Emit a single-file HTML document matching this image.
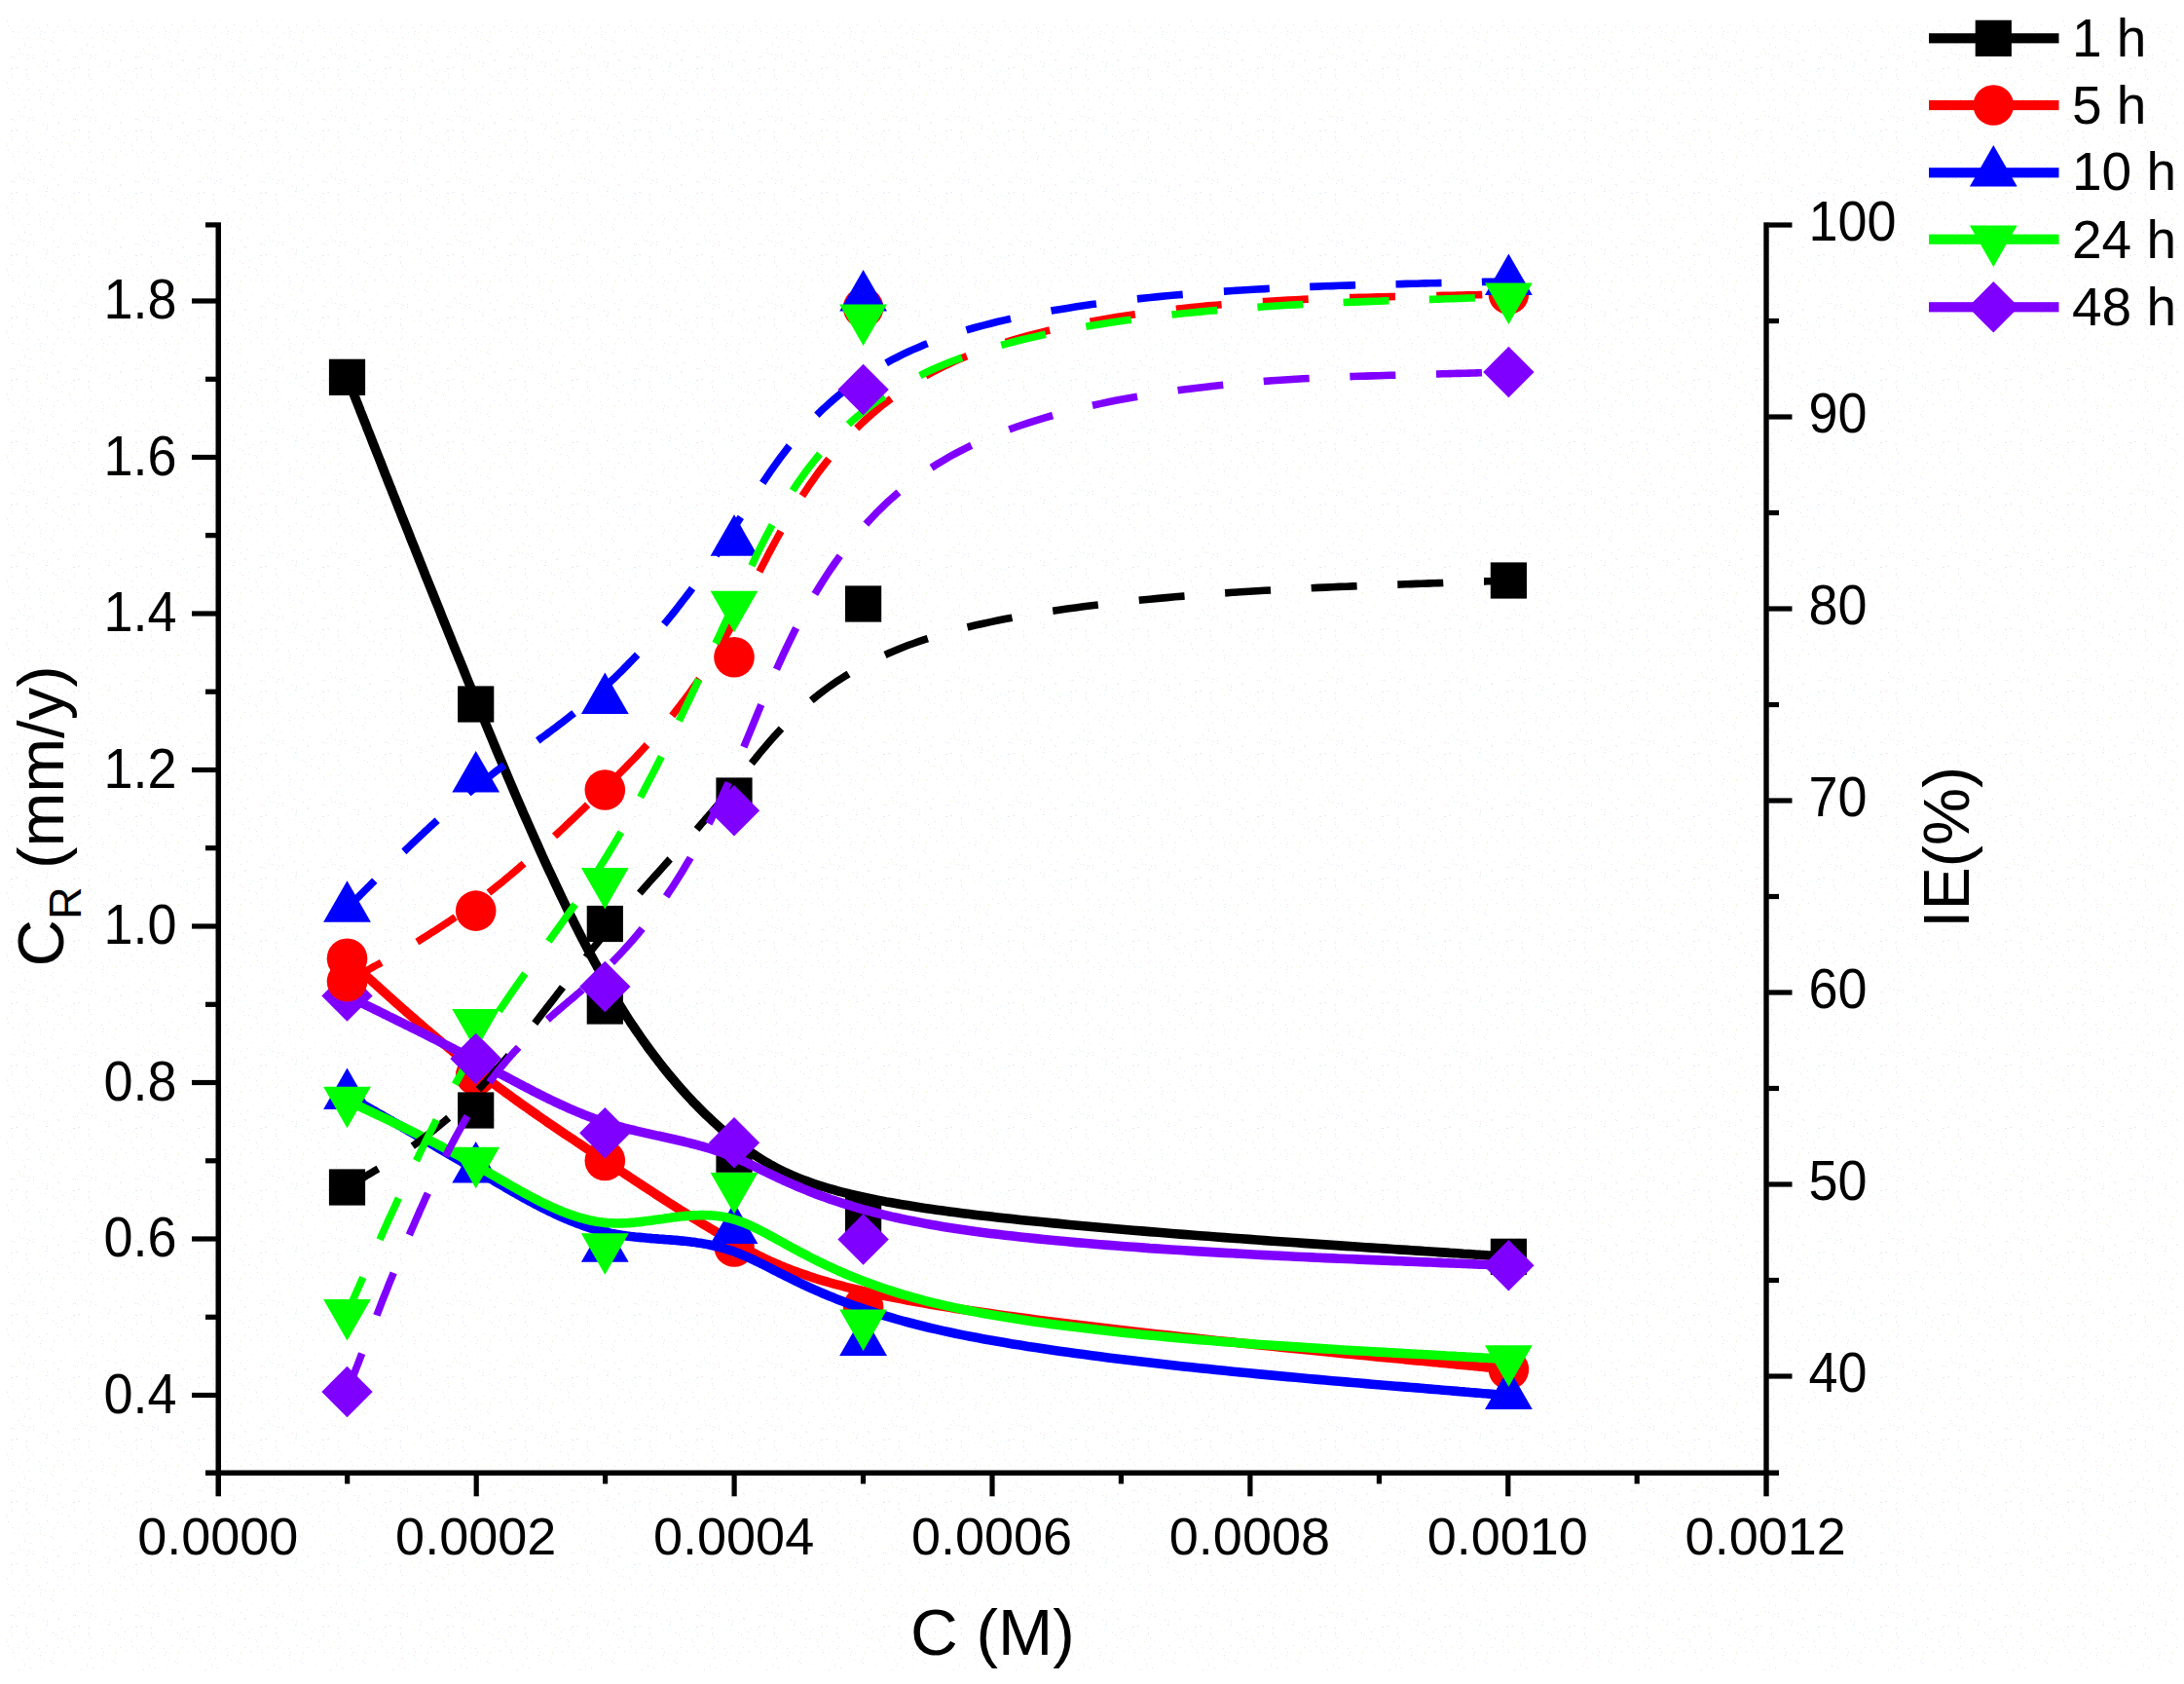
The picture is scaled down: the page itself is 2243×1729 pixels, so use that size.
<!DOCTYPE html>
<html lang="en">
<head>
<meta charset="utf-8">
<title>Corrosion rate and inhibition efficiency vs. concentration</title>
<style>
html,body{margin:0;padding:0;background:#ffffff;}
body{width:2243px;height:1729px;overflow:hidden;}
svg{display:block;}
</style>
</head>
<body>
<svg width="2243" height="1729" viewBox="0 0 2243 1729">
<rect width="2243" height="1729" fill="#ffffff"/>
<defs><pattern id="speckle" width="64" height="64" patternUnits="userSpaceOnUse"><rect x="47" y="4" width="1" height="1" fill="#eee2f0"/><rect x="54" y="3" width="1" height="1" fill="#def8f8"/><rect x="23" y="39" width="1" height="1" fill="#ecf8d6"/><rect x="57" y="14" width="1" height="1" fill="#eee2f0"/><rect x="25" y="46" width="1" height="1" fill="#eee2f0"/><rect x="26" y="8" width="1" height="1" fill="#ecf8d6"/><rect x="48" y="63" width="1" height="1" fill="#ecf8d6"/><rect x="0" y="11" width="1" height="1" fill="#eee2f0"/><rect x="6" y="19" width="1" height="1" fill="#ecf8d6"/><rect x="44" y="63" width="1" height="1" fill="#eee2f0"/><rect x="24" y="55" width="1" height="1" fill="#eee2f0"/><rect x="59" y="61" width="1" height="1" fill="#eee2f0"/><rect x="34" y="56" width="1" height="1" fill="#eee2f0"/><rect x="14" y="38" width="1" height="1" fill="#ecf8d6"/><rect x="46" y="9" width="1" height="1" fill="#def8f8"/><rect x="3" y="8" width="1" height="1" fill="#def8f8"/><rect x="48" y="1" width="1" height="1" fill="#eee2f0"/><rect x="16" y="54" width="1" height="1" fill="#ecf8d6"/><rect x="28" y="60" width="1" height="1" fill="#eee2f0"/><rect x="41" y="35" width="1" height="1" fill="#eee2f0"/><rect x="61" y="7" width="1" height="1" fill="#ecf8d6"/><rect x="55" y="32" width="1" height="1" fill="#ecf8d6"/><rect x="35" y="33" width="1" height="1" fill="#def8f8"/><rect x="59" y="27" width="1" height="1" fill="#eee2f0"/><rect x="19" y="27" width="1" height="1" fill="#ecf8d6"/><rect x="19" y="33" width="1" height="1" fill="#def8f8"/><rect x="30" y="57" width="1" height="1" fill="#eee2f0"/><rect x="29" y="17" width="1" height="1" fill="#eee2f0"/><rect x="19" y="50" width="1" height="1" fill="#eee2f0"/><rect x="21" y="55" width="1" height="1" fill="#def8f8"/><rect x="11" y="58" width="1" height="1" fill="#eee2f0"/><rect x="12" y="29" width="1" height="1" fill="#def8f8"/><rect x="41" y="9" width="1" height="1" fill="#ecf8d6"/><rect x="3" y="46" width="1" height="1" fill="#ecf8d6"/><rect x="20" y="53" width="1" height="1" fill="#ecf8d6"/><rect x="15" y="59" width="1" height="1" fill="#def8f8"/><rect x="48" y="4" width="1" height="1" fill="#def8f8"/><rect x="8" y="26" width="1" height="1" fill="#eee2f0"/><rect x="54" y="43" width="1" height="1" fill="#eee2f0"/><rect x="39" y="3" width="1" height="1" fill="#ecf8d6"/><rect x="12" y="15" width="1" height="1" fill="#eee2f0"/><rect x="54" y="38" width="1" height="1" fill="#ecf8d6"/><rect x="27" y="7" width="1" height="1" fill="#eee2f0"/><rect x="42" y="47" width="1" height="1" fill="#ecf8d6"/><rect x="52" y="41" width="1" height="1" fill="#eee2f0"/><rect x="29" y="26" width="1" height="1" fill="#eee2f0"/><rect x="60" y="62" width="1" height="1" fill="#eee2f0"/><rect x="12" y="6" width="1" height="1" fill="#eee2f0"/><rect x="34" y="59" width="1" height="1" fill="#eee2f0"/><rect x="46" y="52" width="1" height="1" fill="#eee2f0"/><rect x="29" y="38" width="1" height="1" fill="#eee2f0"/><rect x="17" y="5" width="1" height="1" fill="#eee2f0"/><rect x="54" y="12" width="1" height="1" fill="#eee2f0"/><rect x="40" y="28" width="1" height="1" fill="#eee2f0"/><rect x="23" y="21" width="1" height="1" fill="#ecf8d6"/><rect x="27" y="12" width="1" height="1" fill="#eee2f0"/><rect x="11" y="6" width="1" height="1" fill="#eee2f0"/><rect x="33" y="21" width="1" height="1" fill="#def8f8"/><rect x="28" y="56" width="1" height="1" fill="#def8f8"/><rect x="55" y="55" width="1" height="1" fill="#eee2f0"/><rect x="12" y="12" width="1" height="1" fill="#ecf8d6"/><rect x="7" y="21" width="1" height="1" fill="#eee2f0"/><rect x="41" y="38" width="1" height="1" fill="#def8f8"/><rect x="59" y="18" width="1" height="1" fill="#ecf8d6"/><rect x="16" y="5" width="1" height="1" fill="#def8f8"/><rect x="13" y="32" width="1" height="1" fill="#eee2f0"/><rect x="45" y="40" width="1" height="1" fill="#ecf8d6"/><rect x="27" y="14" width="1" height="1" fill="#eee2f0"/><rect x="42" y="32" width="1" height="1" fill="#eee2f0"/><rect x="31" y="48" width="1" height="1" fill="#eee2f0"/><rect x="9" y="9" width="1" height="1" fill="#def8f8"/><rect x="1" y="31" width="1" height="1" fill="#eee2f0"/><rect x="48" y="25" width="1" height="1" fill="#eee2f0"/><rect x="46" y="33" width="1" height="1" fill="#def8f8"/><rect x="63" y="18" width="1" height="1" fill="#eee2f0"/><rect x="13" y="58" width="1" height="1" fill="#eee2f0"/><rect x="62" y="52" width="1" height="1" fill="#eee2f0"/><rect x="27" y="28" width="1" height="1" fill="#eee2f0"/><rect x="55" y="33" width="1" height="1" fill="#ecf8d6"/><rect x="25" y="44" width="1" height="1" fill="#def8f8"/></pattern></defs>
<rect x="5" y="21" width="2232" height="1694" fill="url(#speckle)"/>
<g fill="none" stroke-linejoin="round">
<path d="M356.5 387.3 L356.8 388.2 L357.2 389.1 L357.6 390.1 L357.9 390.9 L358.3 391.9 L358.7 393 L359.3 394.3 L359.8 395.8 L360.2 396.6 L360.5 397.5 L360.9 398.4 L361.3 399.4 L361.7 400.4 L362.1 401.5 L362.6 402.7 L363 403.9 L363.5 405.2 L364.1 406.5 L364.6 407.9 L365.2 409.4 L365.8 410.9 L366.4 412.5 L367.1 414.2 L367.8 415.9 L368.5 417.8 L369.3 419.7 L370 421.7 L370.8 423.7 L371.7 425.9 L372.6 428.1 L373.5 430.4 L374.4 432.8 L375.4 435.3 L376.4 437.8 L377.4 440.5 L378.5 443.2 L379.7 446.1 L380.8 449 L382 452.1 L383.2 455.2 L384.5 458.4 L385.8 461.7 L387.1 465 L388.5 468.5 L389.9 472 L391.3 475.6 L392.7 479.3 L394.2 483.1 L395.7 486.9 L397.3 490.8 L398.8 494.8 L400.4 498.8 L402.1 502.9 L403.7 507.1 L405.4 511.3 L407.1 515.6 L408.8 520 L410.6 524.4 L412.3 528.9 L414.1 533.4 L416 538 L417.8 542.6 L419.7 547.3 L421.5 552 L423.4 556.8 L425.4 561.6 L427.3 566.5 L429.3 571.4 L431.2 576.3 L433.2 581.3 L435.2 586.3 L437.2 591.4 L439.3 596.5 L441.3 601.6 L443.4 606.7 L445.5 611.9 L447.6 617.1 L449.7 622.3 L451.8 627.6 L453.9 632.9 L456 638.1 L458.2 643.5 L460.3 648.8 L462.5 654.1 L464.6 659.5 L466.8 664.8 L469 670.2 L471.2 675.6 L473.4 681 L475.6 686.4 L477.7 691.8 L479.9 697.2 L482.1 702.5 L484.4 707.9 L486.6 713.3 L488.8 718.7 L491 724.1 L493.2 729.5 L495.4 734.8 L497.6 740.2 L499.8 745.5 L502 750.9 L504.2 756.2 L506.4 761.5 L508.6 766.8 L510.8 772.1 L513 777.3 L515.3 782.6 L517.5 787.8 L519.7 793.1 L521.9 798.3 L524.1 803.5 L526.3 808.7 L528.5 813.8 L530.7 819 L532.9 824.1 L535.1 829.2 L537.3 834.3 L539.5 839.3 L541.8 844.4 L544 849.4 L546.2 854.4 L548.4 859.4 L550.6 864.3 L552.8 869.3 L555 874.2 L557.2 879.1 L559.4 883.9 L561.6 888.7 L563.8 893.5 L566.1 898.3 L568.3 903 L570.5 907.8 L572.7 912.4 L574.9 917.1 L577.1 921.7 L579.3 926.3 L581.5 930.9 L583.7 935.4 L585.9 939.9 L588.2 944.3 L590.4 948.8 L592.6 953.1 L594.8 957.5 L597 961.8 L599.2 966.1 L601.4 970.3 L603.6 974.5 L605.8 978.7 L608.1 982.8 L610.3 986.9 L612.5 990.9 L614.7 995 L616.9 998.9 L619.1 1002.8 L621.3 1006.7 L623.5 1010.5 L625.7 1014.3 L627.9 1018.1 L630.2 1021.8 L632.4 1025.4 L634.6 1029 L636.8 1032.6 L639 1036.1 L641.2 1039.6 L643.4 1043.1 L645.6 1046.5 L647.8 1049.9 L650.1 1053.2 L652.3 1056.5 L654.5 1059.7 L656.7 1062.9 L658.9 1066.1 L661.1 1069.2 L663.3 1072.3 L665.5 1075.4 L667.7 1078.4 L670 1081.4 L672.2 1084.3 L674.4 1087.2 L676.6 1090.1 L678.8 1092.9 L681 1095.7 L683.2 1098.5 L685.4 1101.2 L687.6 1103.9 L689.9 1106.6 L692.1 1109.2 L694.3 1111.8 L696.5 1114.4 L698.7 1116.9 L700.9 1119.4 L703.1 1121.8 L705.3 1124.3 L707.6 1126.7 L709.8 1129 L712 1131.4 L714.2 1133.7 L716.4 1135.9 L718.6 1138.2 L720.8 1140.4 L723 1142.6 L725.2 1144.7 L727.5 1146.8 L729.7 1148.9 L731.9 1151 L734.1 1153 L736.3 1155 L738.5 1157 L740.7 1159 L742.9 1160.9 L745.1 1162.8 L747.4 1164.7 L749.6 1166.5 L751.8 1168.3 L754 1170.1 L756.2 1171.9 L758.4 1173.7 L760.6 1175.4 L762.9 1177.1 L765.1 1178.7 L767.3 1180.4 L769.6 1182 L771.9 1183.6 L774.2 1185.2 L776.5 1186.8 L778.8 1188.3 L781.2 1189.8 L783.6 1191.3 L786.1 1192.8 L788.5 1194.2 L791 1195.7 L793.6 1197.1 L796.2 1198.5 L798.8 1199.9 L801.5 1201.2 L804.2 1202.6 L807 1203.9 L809.8 1205.2 L812.7 1206.5 L815.6 1207.7 L818.6 1209 L821.7 1210.2 L824.9 1211.4 L828.1 1212.6 L831.3 1213.8 L834.7 1215 L838.1 1216.2 L841.6 1217.3 L845.2 1218.4 L848.9 1219.5 L852.6 1220.6 L856.5 1221.7 L860.4 1222.8 L864.5 1223.9 L868.6 1224.9 L872.8 1226 L877.1 1227 L881.6 1228 L886.1 1229 L890.7 1230 L895.5 1231 L900.3 1232 L905.3 1232.9 L910.4 1233.9 L915.6 1234.8 L921 1235.8 L926.4 1236.7 L932 1237.6 L937.8 1238.6 L943.6 1239.5 L949.6 1240.4 L955.7 1241.3 L962 1242.2 L968.4 1243 L975 1243.9 L981.7 1244.8 L988.5 1245.7 L995.5 1246.5 L1002.6 1247.4 L1009.8 1248.2 L1017.2 1249.1 L1024.7 1249.9 L1032.2 1250.7 L1039.9 1251.6 L1047.7 1252.4 L1055.6 1253.2 L1063.5 1254 L1071.6 1254.8 L1079.7 1255.6 L1087.9 1256.4 L1096.1 1257.2 L1104.4 1258 L1112.8 1258.7 L1121.2 1259.5 L1129.6 1260.3 L1138.1 1261 L1146.6 1261.7 L1155.2 1262.5 L1163.7 1263.2 L1172.3 1263.9 L1180.9 1264.6 L1189.5 1265.3 L1198.1 1266 L1206.7 1266.7 L1215.2 1267.4 L1223.8 1268 L1232.3 1268.7 L1240.8 1269.3 L1249.3 1270 L1257.7 1270.6 L1266.1 1271.2 L1274.4 1271.8 L1282.7 1272.4 L1290.9 1273 L1299 1273.6 L1307.1 1274.2 L1315.1 1274.8 L1323 1275.3 L1330.8 1275.8 L1338.5 1276.4 L1346.1 1276.9 L1353.6 1277.4 L1361 1277.9 L1368.3 1278.4 L1375.4 1278.9 L1382.4 1279.4 L1389.3 1279.8 L1396.1 1280.3 L1402.7 1280.7 L1409.1 1281.1 L1415.4 1281.5 L1421.6 1281.9 L1427.5 1282.3 L1433.3 1282.7 L1438.9 1283.1 L1444.4 1283.4 L1449.6 1283.8 L1454.7 1284.1 L1459.6 1284.4 L1464.3 1284.7 L1468.9 1285 L1473.3 1285.3 L1477.5 1285.6 L1481.6 1285.9 L1485.5 1286.1 L1489.2 1286.4 L1492.8 1286.6 L1496.3 1286.8 L1499.6 1287 L1502.8 1287.3 L1505.8 1287.5 L1508.7 1287.6 L1511.5 1287.8 L1514.2 1288 L1516.7 1288.2 L1519.1 1288.3 L1521.3 1288.5 L1523.5 1288.6 L1525.5 1288.7 L1527.5 1288.9 L1529.3 1289 L1531 1289.1 L1532.6 1289.2 L1534.2 1289.3 L1535.6 1289.4 L1536.9 1289.5 L1538.2 1289.6 L1539.3 1289.6 L1540.4 1289.7 L1541.4 1289.8 L1542.3 1289.8 L1543.2 1289.9 L1544.7 1290 L1545.9 1290.1 L1546.9 1290.1 L1548 1290.2 L1548.9 1290.3 L1549.4 1290.3" stroke="#000000" stroke-width="9.6" fill="none"/>
<rect x="337.9" y="368.7" width="37.2" height="37.2" fill="#000000"/>
<rect x="470.1" y="704.4" width="37.2" height="37.2" fill="#000000"/>
<rect x="602.7" y="1014.4" width="37.2" height="37.2" fill="#000000"/>
<rect x="735.4" y="1166.6" width="37.2" height="37.2" fill="#000000"/>
<rect x="868" y="1228.4" width="37.2" height="37.2" fill="#000000"/>
<rect x="1530.8" y="1271.7" width="37.2" height="37.2" fill="#000000"/>
<path d="M356.5 984.2 L357.1 984.7 L357.7 985.3 L358.5 986 L359.3 986.7 L360.2 987.5 L360.9 988.2 L361.7 988.9 L362.6 989.7 L363.5 990.6 L364.6 991.5 L365.8 992.6 L366.4 993.2 L367.1 993.8 L367.8 994.4 L368.5 995.1 L369.3 995.8 L370 996.5 L370.8 997.2 L371.7 998 L372.6 998.8 L373.5 999.6 L374.4 1000.4 L375.4 1001.3 L376.4 1002.2 L377.4 1003.2 L378.5 1004.2 L379.7 1005.2 L380.8 1006.2 L382 1007.3 L383.2 1008.4 L384.5 1009.6 L385.8 1010.7 L387.1 1011.9 L388.5 1013.2 L389.9 1014.4 L391.3 1015.7 L392.7 1017 L394.2 1018.3 L395.7 1019.7 L397.3 1021.1 L398.8 1022.5 L400.4 1023.9 L402.1 1025.4 L403.7 1026.8 L405.4 1028.3 L407.1 1029.9 L408.8 1031.4 L410.6 1032.9 L412.3 1034.5 L414.1 1036.1 L416 1037.7 L417.8 1039.3 L419.7 1040.9 L421.5 1042.6 L423.4 1044.2 L425.4 1045.9 L427.3 1047.6 L429.3 1049.3 L431.2 1051 L433.2 1052.7 L435.2 1054.5 L437.2 1056.2 L439.3 1057.9 L441.3 1059.7 L443.4 1061.4 L445.5 1063.2 L447.6 1065 L449.7 1066.8 L451.8 1068.5 L453.9 1070.3 L456 1072.1 L458.2 1073.9 L460.3 1075.7 L462.5 1077.4 L464.6 1079.2 L466.8 1081 L469 1082.8 L471.2 1084.6 L473.4 1086.3 L475.6 1088.1 L477.7 1089.9 L479.9 1091.6 L482.1 1093.4 L484.4 1095.1 L486.6 1096.9 L488.8 1098.6 L491 1100.3 L493.2 1102.1 L495.4 1103.8 L497.6 1105.5 L499.8 1107.1 L502 1108.8 L504.2 1110.5 L506.4 1112.2 L508.6 1113.8 L510.8 1115.5 L513 1117.1 L515.3 1118.7 L517.5 1120.4 L519.7 1122 L521.9 1123.6 L524.1 1125.2 L526.3 1126.8 L528.5 1128.4 L530.7 1130 L532.9 1131.6 L535.1 1133.2 L537.3 1134.7 L539.5 1136.3 L541.8 1137.8 L544 1139.4 L546.2 1141 L548.4 1142.5 L550.6 1144 L552.8 1145.6 L555 1147.1 L557.2 1148.6 L559.4 1150.1 L561.6 1151.7 L563.8 1153.2 L566.1 1154.7 L568.3 1156.2 L570.5 1157.7 L572.7 1159.2 L574.9 1160.7 L577.1 1162.2 L579.3 1163.7 L581.5 1165.2 L583.7 1166.6 L585.9 1168.1 L588.2 1169.6 L590.4 1171.1 L592.6 1172.6 L594.8 1174 L597 1175.5 L599.2 1177 L601.4 1178.5 L603.6 1179.9 L605.8 1181.4 L608.1 1182.9 L610.3 1184.3 L612.5 1185.8 L614.7 1187.3 L616.9 1188.7 L619.1 1190.2 L621.3 1191.7 L623.5 1193.1 L625.7 1194.6 L627.9 1196.1 L630.2 1197.5 L632.4 1199 L634.6 1200.5 L636.8 1201.9 L639 1203.4 L641.2 1204.9 L643.4 1206.3 L645.6 1207.8 L647.8 1209.2 L650.1 1210.7 L652.3 1212.2 L654.5 1213.6 L656.7 1215.1 L658.9 1216.5 L661.1 1218 L663.3 1219.4 L665.5 1220.9 L667.7 1222.3 L670 1223.8 L672.2 1225.2 L674.4 1226.7 L676.6 1228.1 L678.8 1229.5 L681 1231 L683.2 1232.4 L685.4 1233.8 L687.6 1235.2 L689.9 1236.6 L692.1 1238 L694.3 1239.5 L696.5 1240.9 L698.7 1242.3 L700.9 1243.7 L703.1 1245 L705.3 1246.4 L707.6 1247.8 L709.8 1249.2 L712 1250.6 L714.2 1251.9 L716.4 1253.3 L718.6 1254.7 L720.8 1256 L723 1257.4 L725.2 1258.7 L727.5 1260 L729.7 1261.4 L731.9 1262.7 L734.1 1264 L736.3 1265.3 L738.5 1266.6 L740.7 1267.9 L742.9 1269.2 L745.1 1270.5 L747.4 1271.8 L749.6 1273.1 L751.8 1274.3 L754 1275.6 L756.2 1276.8 L758.4 1278.1 L760.6 1279.3 L762.9 1280.5 L765.1 1281.8 L767.3 1283 L769.6 1284.2 L771.9 1285.4 L774.2 1286.6 L776.5 1287.8 L778.8 1289 L781.2 1290.1 L783.6 1291.3 L786.1 1292.5 L788.5 1293.6 L791 1294.8 L793.6 1295.9 L796.2 1297.1 L798.8 1298.2 L801.5 1299.4 L804.2 1300.5 L807 1301.6 L809.8 1302.7 L812.7 1303.9 L815.6 1305 L818.6 1306.1 L821.7 1307.2 L824.9 1308.3 L828.1 1309.4 L831.3 1310.5 L834.7 1311.6 L838.1 1312.7 L841.6 1313.8 L845.2 1314.8 L848.9 1315.9 L852.6 1317 L856.5 1318.1 L860.4 1319.1 L864.5 1320.2 L868.6 1321.3 L872.8 1322.3 L877.1 1323.4 L881.6 1324.5 L886.1 1325.5 L890.7 1326.6 L895.5 1327.6 L900.3 1328.7 L905.3 1329.7 L910.4 1330.8 L915.6 1331.8 L921 1332.9 L926.4 1333.9 L932 1335 L937.8 1336 L943.6 1337.1 L949.6 1338.1 L955.7 1339.2 L962 1340.2 L968.4 1341.3 L975 1342.3 L981.7 1343.4 L988.5 1344.4 L995.5 1345.5 L1002.6 1346.5 L1009.8 1347.6 L1017.2 1348.6 L1024.7 1349.7 L1032.2 1350.7 L1039.9 1351.8 L1047.7 1352.8 L1055.6 1353.8 L1063.5 1354.9 L1071.6 1355.9 L1079.7 1356.9 L1087.9 1358 L1096.1 1359 L1104.4 1360 L1112.8 1361 L1121.2 1362 L1129.6 1363 L1138.1 1364 L1146.6 1365 L1155.2 1366 L1163.7 1367 L1172.3 1368 L1180.9 1368.9 L1189.5 1369.9 L1198.1 1370.8 L1206.7 1371.8 L1215.2 1372.7 L1223.8 1373.6 L1232.3 1374.5 L1240.8 1375.5 L1249.3 1376.4 L1257.7 1377.2 L1266.1 1378.1 L1274.4 1379 L1282.7 1379.8 L1290.9 1380.7 L1299 1381.5 L1307.1 1382.3 L1315.1 1383.2 L1323 1383.9 L1330.8 1384.7 L1338.5 1385.5 L1346.1 1386.3 L1353.6 1387 L1361 1387.7 L1368.3 1388.5 L1375.4 1389.2 L1382.4 1389.9 L1389.3 1390.5 L1396.1 1391.2 L1402.7 1391.8 L1409.1 1392.5 L1415.4 1393.1 L1421.6 1393.7 L1427.5 1394.2 L1433.3 1394.8 L1438.9 1395.3 L1444.4 1395.9 L1449.6 1396.4 L1454.7 1396.9 L1459.6 1397.3 L1464.3 1397.8 L1468.9 1398.2 L1473.3 1398.6 L1477.5 1399.1 L1481.6 1399.4 L1485.5 1399.8 L1489.2 1400.2 L1492.8 1400.5 L1496.3 1400.9 L1499.6 1401.2 L1502.8 1401.5 L1505.8 1401.8 L1508.7 1402.1 L1511.5 1402.3 L1514.2 1402.6 L1516.7 1402.8 L1519.1 1403.1 L1521.3 1403.3 L1523.5 1403.5 L1525.5 1403.7 L1527.5 1403.9 L1529.3 1404.1 L1531 1404.2 L1532.6 1404.4 L1534.2 1404.5 L1535.6 1404.7 L1536.9 1404.8 L1538.2 1404.9 L1539.3 1405 L1540.4 1405.1 L1541.4 1405.2 L1542.3 1405.3 L1543.2 1405.4 L1544.7 1405.5 L1545.9 1405.7 L1546.9 1405.8 L1548 1405.9 L1548.9 1406 L1549.4 1406" stroke="#ff0000" stroke-width="9.6" fill="none"/>
<circle cx="356.5" cy="984.2" r="20.8" fill="#ff0000"/>
<circle cx="488.7" cy="1104" r="20.8" fill="#ff0000"/>
<circle cx="621.3" cy="1191.5" r="20.8" fill="#ff0000"/>
<circle cx="754" cy="1280" r="20.8" fill="#ff0000"/>
<circle cx="886.6" cy="1342" r="20.8" fill="#ff0000"/>
<circle cx="1549.4" cy="1406" r="20.8" fill="#ff0000"/>
<path d="M356.5 1124.8 L357.2 1125.2 L357.9 1125.6 L358.7 1126.1 L359.5 1126.5 L360.5 1127.1 L361.3 1127.5 L362.1 1128 L363 1128.5 L364.1 1129.1 L365.2 1129.8 L366.4 1130.5 L367.8 1131.2 L368.5 1131.7 L369.3 1132.1 L370 1132.5 L370.8 1133 L371.7 1133.5 L372.6 1134 L373.5 1134.5 L374.4 1135 L375.4 1135.6 L376.4 1136.2 L377.4 1136.8 L378.5 1137.4 L379.7 1138 L380.8 1138.7 L382 1139.4 L383.2 1140.1 L384.5 1140.8 L385.8 1141.5 L387.1 1142.3 L388.5 1143.1 L389.9 1143.9 L391.3 1144.7 L392.7 1145.5 L394.2 1146.4 L395.7 1147.2 L397.3 1148.1 L398.8 1149 L400.4 1149.9 L402.1 1150.8 L403.7 1151.8 L405.4 1152.8 L407.1 1153.7 L408.8 1154.7 L410.6 1155.7 L412.3 1156.7 L414.1 1157.8 L416 1158.8 L417.8 1159.9 L419.7 1161 L421.5 1162 L423.4 1163.1 L425.4 1164.2 L427.3 1165.4 L429.3 1166.5 L431.2 1167.6 L433.2 1168.8 L435.2 1169.9 L437.2 1171.1 L439.3 1172.3 L441.3 1173.5 L443.4 1174.7 L445.5 1175.9 L447.6 1177.1 L449.7 1178.3 L451.8 1179.6 L453.9 1180.8 L456 1182 L458.2 1183.3 L460.3 1184.5 L462.5 1185.8 L464.6 1187.1 L466.8 1188.3 L469 1189.6 L471.2 1190.9 L473.4 1192.2 L475.6 1193.5 L477.7 1194.8 L479.9 1196.1 L482.1 1197.4 L484.4 1198.7 L486.6 1200 L488.8 1201.3 L491 1202.6 L493.2 1203.9 L495.4 1205.2 L497.6 1206.5 L499.8 1207.8 L502 1209.1 L504.2 1210.4 L506.4 1211.7 L508.6 1213 L510.8 1214.3 L513 1215.6 L515.3 1216.9 L517.5 1218.2 L519.7 1219.5 L521.9 1220.8 L524.1 1222 L526.3 1223.3 L528.5 1224.6 L530.7 1225.8 L532.9 1227.1 L535.1 1228.3 L537.3 1229.5 L539.5 1230.8 L541.8 1232 L544 1233.2 L546.2 1234.3 L548.4 1235.5 L550.6 1236.7 L552.8 1237.8 L555 1239 L557.2 1240.1 L559.4 1241.2 L561.6 1242.3 L563.8 1243.4 L566.1 1244.5 L568.3 1245.5 L570.5 1246.6 L572.7 1247.6 L574.9 1248.6 L577.1 1249.6 L579.3 1250.6 L581.5 1251.5 L583.7 1252.4 L585.9 1253.4 L588.2 1254.3 L590.4 1255.1 L592.6 1256 L594.8 1256.8 L597 1257.6 L599.2 1258.4 L601.4 1259.2 L603.6 1259.9 L605.8 1260.6 L608.1 1261.3 L610.3 1262 L612.5 1262.6 L614.7 1263.2 L616.9 1263.8 L619.1 1264.4 L621.3 1264.9 L623.5 1265.4 L625.7 1265.9 L627.9 1266.4 L630.2 1266.8 L632.4 1267.2 L634.6 1267.6 L636.8 1267.9 L639 1268.3 L641.2 1268.6 L643.4 1268.9 L645.6 1269.2 L647.8 1269.5 L650.1 1269.7 L652.3 1270 L654.5 1270.2 L656.7 1270.4 L658.9 1270.6 L661.1 1270.8 L663.3 1271 L665.5 1271.2 L667.7 1271.4 L670 1271.6 L672.2 1271.7 L674.4 1271.9 L676.6 1272.1 L678.8 1272.2 L681 1272.4 L683.2 1272.6 L685.4 1272.7 L687.6 1272.9 L689.9 1273.1 L692.1 1273.3 L694.3 1273.4 L696.5 1273.6 L698.7 1273.9 L700.9 1274.1 L703.1 1274.3 L705.3 1274.5 L707.6 1274.8 L709.8 1275.1 L712 1275.3 L714.2 1275.6 L716.4 1276 L718.6 1276.3 L720.8 1276.6 L723 1277 L725.2 1277.4 L727.5 1277.8 L729.7 1278.3 L731.9 1278.8 L734.1 1279.3 L736.3 1279.8 L738.5 1280.3 L740.7 1280.9 L742.9 1281.5 L745.1 1282.2 L747.4 1282.9 L749.6 1283.6 L751.8 1284.3 L754 1285.1 L756.2 1285.9 L758.4 1286.8 L760.6 1287.7 L762.9 1288.6 L765.1 1289.6 L767.3 1290.5 L769.6 1291.6 L771.9 1292.6 L774.2 1293.7 L776.5 1294.8 L778.8 1296 L781.2 1297.1 L783.6 1298.3 L786.1 1299.6 L788.5 1300.8 L791 1302.1 L793.6 1303.4 L796.2 1304.7 L798.8 1306 L801.5 1307.4 L804.2 1308.7 L807 1310.1 L809.8 1311.5 L812.7 1313 L815.6 1314.4 L818.6 1315.9 L821.7 1317.3 L824.9 1318.8 L828.1 1320.3 L831.3 1321.8 L834.7 1323.4 L838.1 1324.9 L841.6 1326.4 L845.2 1328 L848.9 1329.5 L852.6 1331.1 L856.5 1332.6 L860.4 1334.2 L864.5 1335.8 L868.6 1337.3 L872.8 1338.9 L877.1 1340.5 L881.6 1342 L886.1 1343.6 L890.7 1345.2 L895.5 1346.7 L900.3 1348.3 L905.3 1349.9 L910.4 1351.4 L915.6 1352.9 L921 1354.5 L926.4 1356 L932 1357.5 L937.8 1359 L943.6 1360.5 L949.6 1362 L955.7 1363.5 L962 1364.9 L968.4 1366.4 L975 1367.8 L981.7 1369.2 L988.5 1370.6 L995.5 1372 L1002.6 1373.3 L1009.8 1374.7 L1017.2 1376 L1024.7 1377.3 L1032.2 1378.6 L1039.9 1379.9 L1047.7 1381.1 L1055.6 1382.4 L1063.5 1383.6 L1071.6 1384.8 L1079.7 1386 L1087.9 1387.2 L1096.1 1388.3 L1104.4 1389.5 L1112.8 1390.6 L1121.2 1391.7 L1129.6 1392.8 L1138.1 1393.9 L1146.6 1395 L1155.2 1396 L1163.7 1397.1 L1172.3 1398.1 L1180.9 1399.1 L1189.5 1400.1 L1198.1 1401 L1206.7 1402 L1215.2 1402.9 L1223.8 1403.8 L1232.3 1404.7 L1240.8 1405.6 L1249.3 1406.5 L1257.7 1407.3 L1266.1 1408.2 L1274.4 1409 L1282.7 1409.8 L1290.9 1410.6 L1299 1411.4 L1307.1 1412.1 L1315.1 1412.9 L1323 1413.6 L1330.8 1414.3 L1338.5 1415 L1346.1 1415.7 L1353.6 1416.4 L1361 1417 L1368.3 1417.7 L1375.4 1418.3 L1382.4 1418.9 L1389.3 1419.5 L1396.1 1420 L1402.7 1420.6 L1409.1 1421.2 L1415.4 1421.7 L1421.6 1422.2 L1427.5 1422.7 L1433.3 1423.2 L1438.9 1423.6 L1444.4 1424.1 L1449.6 1424.5 L1454.7 1424.9 L1459.6 1425.3 L1464.3 1425.7 L1468.9 1426.1 L1473.3 1426.5 L1477.5 1426.8 L1481.6 1427.2 L1485.5 1427.5 L1489.2 1427.8 L1492.8 1428.1 L1496.3 1428.4 L1499.6 1428.7 L1502.8 1428.9 L1505.8 1429.2 L1508.7 1429.4 L1511.5 1429.7 L1514.2 1429.9 L1516.7 1430.1 L1519.1 1430.3 L1521.3 1430.5 L1523.5 1430.7 L1525.5 1430.8 L1527.5 1431 L1529.3 1431.1 L1531 1431.3 L1532.6 1431.4 L1534.2 1431.5 L1535.6 1431.7 L1536.9 1431.8 L1538.2 1431.9 L1539.3 1432 L1540.4 1432.1 L1541.4 1432.1 L1542.3 1432.2 L1543.2 1432.3 L1544.7 1432.4 L1545.9 1432.5 L1546.9 1432.6 L1548 1432.7 L1548.9 1432.8 L1549.4 1432.8" stroke="#0000ff" stroke-width="9.6" fill="none"/>
<polygon points="356.5,1096.5 380.9,1139 332.1,1139" fill="#0000ff"/>
<polygon points="488.7,1172 513.1,1214.5 464.3,1214.5" fill="#0000ff"/>
<polygon points="621.3,1253.3 645.7,1295.8 596.9,1295.8" fill="#0000ff"/>
<polygon points="754,1234.5 778.4,1277 729.6,1277" fill="#0000ff"/>
<polygon points="886.6,1349.5 911,1392 862.2,1392" fill="#0000ff"/>
<polygon points="1549.4,1404.5 1573.8,1447 1525,1447" fill="#0000ff"/>
<path d="M356.5 1130 L357.3 1130.4 L358.1 1130.7 L359 1131.2 L359.8 1131.6 L360.9 1132.1 L361.7 1132.4 L362.6 1132.8 L363.5 1133.3 L364.6 1133.8 L365.8 1134.4 L367.1 1135 L368.5 1135.6 L369.3 1136 L370 1136.3 L370.8 1136.7 L371.7 1137.1 L372.6 1137.5 L373.5 1138 L374.4 1138.4 L375.4 1138.9 L376.4 1139.3 L377.4 1139.8 L378.5 1140.3 L379.7 1140.9 L380.8 1141.4 L382 1142 L383.2 1142.5 L384.5 1143.1 L385.8 1143.7 L387.1 1144.4 L388.5 1145 L389.9 1145.7 L391.3 1146.3 L392.7 1147 L394.2 1147.7 L395.7 1148.4 L397.3 1149.2 L398.8 1149.9 L400.4 1150.7 L402.1 1151.5 L403.7 1152.3 L405.4 1153.1 L407.1 1153.9 L408.8 1154.7 L410.6 1155.6 L412.3 1156.4 L414.1 1157.3 L416 1158.2 L417.8 1159.1 L419.7 1160 L421.5 1160.9 L423.4 1161.9 L425.4 1162.8 L427.3 1163.8 L429.3 1164.8 L431.2 1165.8 L433.2 1166.8 L435.2 1167.8 L437.2 1168.8 L439.3 1169.9 L441.3 1170.9 L443.4 1172 L445.5 1173 L447.6 1174.1 L449.7 1175.2 L451.8 1176.3 L453.9 1177.4 L456 1178.5 L458.2 1179.7 L460.3 1180.8 L462.5 1181.9 L464.6 1183.1 L466.8 1184.3 L469 1185.4 L471.2 1186.6 L473.4 1187.8 L475.6 1189 L477.7 1190.2 L479.9 1191.5 L482.1 1192.7 L484.4 1193.9 L486.6 1195.2 L488.8 1196.4 L491 1197.7 L493.2 1198.9 L495.4 1200.2 L497.6 1201.5 L499.8 1202.8 L502 1204 L504.2 1205.3 L506.4 1206.6 L508.6 1207.9 L510.8 1209.2 L513 1210.5 L515.3 1211.8 L517.5 1213 L519.7 1214.3 L521.9 1215.6 L524.1 1216.9 L526.3 1218.1 L528.5 1219.4 L530.7 1220.6 L532.9 1221.9 L535.1 1223.1 L537.3 1224.3 L539.5 1225.5 L541.8 1226.7 L544 1227.9 L546.2 1229.1 L548.4 1230.3 L550.6 1231.4 L552.8 1232.5 L555 1233.7 L557.2 1234.8 L559.4 1235.8 L561.6 1236.9 L563.8 1237.9 L566.1 1239 L568.3 1240 L570.5 1240.9 L572.7 1241.9 L574.9 1242.8 L577.1 1243.7 L579.3 1244.6 L581.5 1245.4 L583.7 1246.3 L585.9 1247.1 L588.2 1247.8 L590.4 1248.6 L592.6 1249.3 L594.8 1250 L597 1250.6 L599.2 1251.2 L601.4 1251.8 L603.6 1252.3 L605.8 1252.9 L608.1 1253.3 L610.3 1253.8 L612.5 1254.2 L614.7 1254.5 L616.9 1254.8 L619.1 1255.1 L621.3 1255.4 L623.5 1255.6 L625.7 1255.7 L627.9 1255.8 L630.2 1255.9 L632.4 1256 L634.6 1256 L636.8 1256 L639 1255.9 L641.2 1255.8 L643.4 1255.7 L645.6 1255.6 L647.8 1255.4 L650.1 1255.3 L652.3 1255.1 L654.5 1254.8 L656.7 1254.6 L658.9 1254.4 L661.1 1254.1 L663.3 1253.8 L665.5 1253.5 L667.7 1253.2 L670 1252.9 L672.2 1252.6 L674.4 1252.3 L676.6 1252 L678.8 1251.7 L681 1251.4 L683.2 1251 L685.4 1250.7 L687.6 1250.4 L689.9 1250.1 L692.1 1249.8 L694.3 1249.6 L696.5 1249.3 L698.7 1249 L700.9 1248.8 L703.1 1248.6 L705.3 1248.4 L707.6 1248.2 L709.8 1248.1 L712 1247.9 L714.2 1247.8 L716.4 1247.7 L718.6 1247.7 L720.8 1247.6 L723 1247.6 L725.2 1247.7 L727.5 1247.8 L729.7 1247.9 L731.9 1248 L734.1 1248.2 L736.3 1248.4 L738.5 1248.7 L740.7 1249 L742.9 1249.4 L745.1 1249.8 L747.4 1250.3 L749.6 1250.8 L751.8 1251.4 L754 1252 L756.2 1252.7 L758.4 1253.4 L760.6 1254.2 L762.9 1255 L765.1 1255.9 L767.3 1256.9 L769.6 1257.9 L771.9 1258.9 L774.2 1260 L776.5 1261.1 L778.8 1262.3 L781.2 1263.5 L783.6 1264.7 L786.1 1266 L788.5 1267.3 L791 1268.7 L793.6 1270.1 L796.2 1271.5 L798.8 1272.9 L801.5 1274.4 L804.2 1275.9 L807 1277.5 L809.8 1279 L812.7 1280.6 L815.6 1282.2 L818.6 1283.8 L821.7 1285.5 L824.9 1287.1 L828.1 1288.8 L831.3 1290.5 L834.7 1292.2 L838.1 1293.9 L841.6 1295.7 L845.2 1297.4 L848.9 1299.2 L852.6 1300.9 L856.5 1302.7 L860.4 1304.5 L864.5 1306.2 L868.6 1308 L872.8 1309.8 L877.1 1311.5 L881.6 1313.3 L886.1 1315.1 L890.7 1316.8 L895.5 1318.6 L900.3 1320.3 L905.3 1322 L910.4 1323.7 L915.6 1325.4 L921 1327.1 L926.4 1328.8 L932 1330.4 L937.8 1332.1 L943.6 1333.7 L949.6 1335.3 L955.7 1336.9 L962 1338.4 L968.4 1339.9 L975 1341.4 L981.7 1342.9 L988.5 1344.3 L995.5 1345.7 L1002.6 1347.1 L1009.8 1348.5 L1017.2 1349.8 L1024.7 1351.1 L1032.2 1352.3 L1039.9 1353.6 L1047.7 1354.8 L1055.6 1356 L1063.5 1357.2 L1071.6 1358.3 L1079.7 1359.4 L1087.9 1360.5 L1096.1 1361.6 L1104.4 1362.6 L1112.8 1363.6 L1121.2 1364.6 L1129.6 1365.6 L1138.1 1366.6 L1146.6 1367.5 L1155.2 1368.4 L1163.7 1369.3 L1172.3 1370.2 L1180.9 1371 L1189.5 1371.8 L1198.1 1372.6 L1206.7 1373.4 L1215.2 1374.2 L1223.8 1374.9 L1232.3 1375.6 L1240.8 1376.3 L1249.3 1377 L1257.7 1377.7 L1266.1 1378.3 L1274.4 1379 L1282.7 1379.6 L1290.9 1380.2 L1299 1380.8 L1307.1 1381.3 L1315.1 1381.9 L1323 1382.4 L1330.8 1382.9 L1338.5 1383.4 L1346.1 1383.9 L1353.6 1384.4 L1361 1384.9 L1368.3 1385.3 L1375.4 1385.7 L1382.4 1386.2 L1389.3 1386.6 L1396.1 1387 L1402.7 1387.3 L1409.1 1387.7 L1415.4 1388.1 L1421.6 1388.4 L1427.5 1388.7 L1433.3 1389.1 L1438.9 1389.4 L1444.4 1389.7 L1449.6 1390 L1454.7 1390.2 L1459.6 1390.5 L1464.3 1390.8 L1468.9 1391 L1473.3 1391.3 L1477.5 1391.5 L1481.6 1391.7 L1485.5 1392 L1489.2 1392.2 L1492.8 1392.4 L1496.3 1392.6 L1499.6 1392.7 L1502.8 1392.9 L1505.8 1393.1 L1508.7 1393.2 L1511.5 1393.4 L1514.2 1393.5 L1516.7 1393.7 L1519.1 1393.8 L1521.3 1393.9 L1523.5 1394.1 L1525.5 1394.2 L1527.5 1394.3 L1529.3 1394.4 L1531 1394.5 L1532.6 1394.6 L1534.2 1394.7 L1535.6 1394.7 L1536.9 1394.8 L1538.2 1394.9 L1539.3 1394.9 L1540.4 1395 L1541.4 1395.1 L1542.3 1395.1 L1543.2 1395.2 L1544.7 1395.2 L1545.9 1395.3 L1546.9 1395.4 L1548 1395.4 L1548.9 1395.5 L1549.4 1395.5" stroke="#00ff00" stroke-width="9.6" fill="none"/>
<polygon points="356.5,1158.3 380.9,1115.8 332.1,1115.8" fill="#00ff00"/>
<polygon points="488.7,1220.3 513.1,1177.8 464.3,1177.8" fill="#00ff00"/>
<polygon points="621.3,1308.8 645.7,1266.3 596.9,1266.3" fill="#00ff00"/>
<polygon points="754,1246.5 778.4,1204 729.6,1204" fill="#00ff00"/>
<polygon points="886.6,1387 911,1344.5 862.2,1344.5" fill="#00ff00"/>
<polygon points="1549.4,1423.8 1573.8,1381.3 1525,1381.3" fill="#00ff00"/>
<path d="M356.5 1022.5 L357.3 1022.9 L358.1 1023.3 L359 1023.7 L359.8 1024.1 L360.9 1024.6 L361.7 1025 L362.6 1025.5 L363.5 1025.9 L364.6 1026.5 L365.8 1027 L367.1 1027.7 L368.5 1028.4 L369.3 1028.7 L370 1029.1 L370.8 1029.5 L371.7 1029.9 L372.6 1030.3 L373.5 1030.8 L374.4 1031.2 L375.4 1031.7 L376.4 1032.2 L377.4 1032.7 L378.5 1033.2 L379.7 1033.8 L380.8 1034.4 L382 1034.9 L383.2 1035.5 L384.5 1036.2 L385.8 1036.8 L387.1 1037.4 L388.5 1038.1 L389.9 1038.8 L391.3 1039.5 L392.7 1040.2 L394.2 1040.9 L395.7 1041.7 L397.3 1042.4 L398.8 1043.2 L400.4 1044 L402.1 1044.8 L403.7 1045.6 L405.4 1046.4 L407.1 1047.3 L408.8 1048.1 L410.6 1049 L412.3 1049.9 L414.1 1050.7 L416 1051.7 L417.8 1052.6 L419.7 1053.5 L421.5 1054.4 L423.4 1055.4 L425.4 1056.3 L427.3 1057.3 L429.3 1058.3 L431.2 1059.3 L433.2 1060.3 L435.2 1061.3 L437.2 1062.3 L439.3 1063.3 L441.3 1064.4 L443.4 1065.4 L445.5 1066.5 L447.6 1067.5 L449.7 1068.6 L451.8 1069.7 L453.9 1070.8 L456 1071.9 L458.2 1073 L460.3 1074.1 L462.5 1075.2 L464.6 1076.3 L466.8 1077.4 L469 1078.6 L471.2 1079.7 L473.4 1080.8 L475.6 1082 L477.7 1083.1 L479.9 1084.3 L482.1 1085.5 L484.4 1086.6 L486.6 1087.8 L488.8 1089 L491 1090.1 L493.2 1091.3 L495.4 1092.5 L497.6 1093.7 L499.8 1094.9 L502 1096.1 L504.2 1097.2 L506.4 1098.4 L508.6 1099.6 L510.8 1100.8 L513 1102 L515.3 1103.2 L517.5 1104.4 L519.7 1105.5 L521.9 1106.7 L524.1 1107.9 L526.3 1109.1 L528.5 1110.3 L530.7 1111.4 L532.9 1112.6 L535.1 1113.8 L537.3 1114.9 L539.5 1116.1 L541.8 1117.2 L544 1118.4 L546.2 1119.5 L548.4 1120.7 L550.6 1121.8 L552.8 1122.9 L555 1124 L557.2 1125.1 L559.4 1126.2 L561.6 1127.3 L563.8 1128.4 L566.1 1129.5 L568.3 1130.5 L570.5 1131.6 L572.7 1132.6 L574.9 1133.6 L577.1 1134.7 L579.3 1135.7 L581.5 1136.7 L583.7 1137.7 L585.9 1138.6 L588.2 1139.6 L590.4 1140.5 L592.6 1141.5 L594.8 1142.4 L597 1143.3 L599.2 1144.2 L601.4 1145.1 L603.6 1145.9 L605.8 1146.8 L608.1 1147.6 L610.3 1148.4 L612.5 1149.2 L614.7 1150 L616.9 1150.8 L619.1 1151.5 L621.3 1152.2 L623.5 1153 L625.7 1153.7 L627.9 1154.3 L630.2 1155 L632.4 1155.6 L634.6 1156.3 L636.8 1156.9 L639 1157.5 L641.2 1158.1 L643.4 1158.6 L645.6 1159.2 L647.8 1159.8 L650.1 1160.3 L652.3 1160.8 L654.5 1161.4 L656.7 1161.9 L658.9 1162.4 L661.1 1162.9 L663.3 1163.4 L665.5 1163.9 L667.7 1164.4 L670 1164.9 L672.2 1165.4 L674.4 1165.9 L676.6 1166.3 L678.8 1166.8 L681 1167.3 L683.2 1167.8 L685.4 1168.3 L687.6 1168.8 L689.9 1169.3 L692.1 1169.8 L694.3 1170.3 L696.5 1170.8 L698.7 1171.3 L700.9 1171.8 L703.1 1172.3 L705.3 1172.9 L707.6 1173.4 L709.8 1174 L712 1174.5 L714.2 1175.1 L716.4 1175.7 L718.6 1176.3 L720.8 1176.9 L723 1177.5 L725.2 1178.2 L727.5 1178.8 L729.7 1179.5 L731.9 1180.2 L734.1 1180.9 L736.3 1181.6 L738.5 1182.4 L740.7 1183.1 L742.9 1183.9 L745.1 1184.7 L747.4 1185.5 L749.6 1186.4 L751.8 1187.3 L754 1188.2 L756.2 1189.1 L758.4 1190 L760.6 1191 L762.9 1192 L765.1 1193 L767.3 1194 L769.6 1195.1 L771.9 1196.2 L774.2 1197.3 L776.5 1198.4 L778.8 1199.5 L781.2 1200.7 L783.6 1201.8 L786.1 1203 L788.5 1204.2 L791 1205.4 L793.6 1206.6 L796.2 1207.8 L798.8 1209.1 L801.5 1210.3 L804.2 1211.6 L807 1212.9 L809.8 1214.1 L812.7 1215.4 L815.6 1216.7 L818.6 1218 L821.7 1219.3 L824.9 1220.6 L828.1 1221.9 L831.3 1223.2 L834.7 1224.6 L838.1 1225.9 L841.6 1227.2 L845.2 1228.5 L848.9 1229.8 L852.6 1231.2 L856.5 1232.5 L860.4 1233.8 L864.5 1235.1 L868.6 1236.4 L872.8 1237.7 L877.1 1239 L881.6 1240.3 L886.1 1241.6 L890.7 1242.8 L895.5 1244.1 L900.3 1245.4 L905.3 1246.6 L910.4 1247.8 L915.6 1249.1 L921 1250.3 L926.4 1251.5 L932 1252.6 L937.8 1253.8 L943.6 1254.9 L949.6 1256.1 L955.7 1257.2 L962 1258.3 L968.4 1259.4 L975 1260.4 L981.7 1261.5 L988.5 1262.5 L995.5 1263.5 L1002.6 1264.5 L1009.8 1265.4 L1017.2 1266.4 L1024.7 1267.3 L1032.2 1268.2 L1039.9 1269.1 L1047.7 1270 L1055.6 1270.8 L1063.5 1271.6 L1071.6 1272.5 L1079.7 1273.3 L1087.9 1274 L1096.1 1274.8 L1104.4 1275.6 L1112.8 1276.3 L1121.2 1277 L1129.6 1277.7 L1138.1 1278.4 L1146.6 1279 L1155.2 1279.7 L1163.7 1280.3 L1172.3 1280.9 L1180.9 1281.6 L1189.5 1282.1 L1198.1 1282.7 L1206.7 1283.3 L1215.2 1283.8 L1223.8 1284.4 L1232.3 1284.9 L1240.8 1285.4 L1249.3 1285.9 L1257.7 1286.4 L1266.1 1286.8 L1274.4 1287.3 L1282.7 1287.7 L1290.9 1288.2 L1299 1288.6 L1307.1 1289 L1315.1 1289.4 L1323 1289.8 L1330.8 1290.2 L1338.5 1290.5 L1346.1 1290.9 L1353.6 1291.2 L1361 1291.6 L1368.3 1291.9 L1375.4 1292.2 L1382.4 1292.5 L1389.3 1292.8 L1396.1 1293.1 L1402.7 1293.4 L1409.1 1293.6 L1415.4 1293.9 L1421.6 1294.1 L1427.5 1294.4 L1433.3 1294.6 L1438.9 1294.8 L1444.4 1295.1 L1449.6 1295.3 L1454.7 1295.5 L1459.6 1295.7 L1464.3 1295.9 L1468.9 1296 L1473.3 1296.2 L1477.5 1296.4 L1481.6 1296.6 L1485.5 1296.7 L1489.2 1296.9 L1492.8 1297 L1496.3 1297.2 L1499.6 1297.3 L1502.8 1297.4 L1505.8 1297.5 L1508.7 1297.7 L1511.5 1297.8 L1514.2 1297.9 L1516.7 1298 L1519.1 1298.1 L1521.3 1298.2 L1523.5 1298.3 L1525.5 1298.3 L1527.5 1298.4 L1529.3 1298.5 L1531 1298.6 L1532.6 1298.6 L1534.2 1298.7 L1535.6 1298.7 L1536.9 1298.8 L1538.2 1298.8 L1539.3 1298.9 L1540.4 1298.9 L1541.4 1299 L1542.3 1299 L1543.2 1299 L1544.7 1299.1 L1545.9 1299.2 L1546.9 1299.2 L1548 1299.2 L1548.9 1299.3 L1549.4 1299.3" stroke="#8000ff" stroke-width="9.6" fill="none"/>
<polygon points="356.5,996.3 382.7,1022.5 356.5,1048.7 330.3,1022.5" fill="#8000ff"/>
<polygon points="488.7,1060.8 514.9,1087 488.7,1113.2 462.5,1087" fill="#8000ff"/>
<polygon points="621.3,1137.1 647.5,1163.3 621.3,1189.5 595.1,1163.3" fill="#8000ff"/>
<polygon points="754,1147.1 780.2,1173.3 754,1199.5 727.8,1173.3" fill="#8000ff"/>
<polygon points="886.6,1246.3 912.8,1272.5 886.6,1298.7 860.4,1272.5" fill="#8000ff"/>
<polygon points="1549.4,1273.1 1575.6,1299.3 1549.4,1325.5 1523.2,1299.3" fill="#8000ff"/>
</g>
<g fill="none">
<path d="M356.5 1219 L357.2 1218.6 L357.9 1218.2 L358.7 1217.7 L359.5 1217.2 L360.5 1216.6 L361.3 1216.2 L362.1 1215.7 L363 1215.1 L364.1 1214.5 L365.2 1213.8 L366.4 1213.1 L367.8 1212.3 L368.5 1211.8 L369.3 1211.4 L370 1210.9 L370.8 1210.4 L371.7 1209.9 L372.6 1209.4 L373.5 1208.9 L374.4 1208.3 L375.4 1207.7 L376.4 1207.1 L377.4 1206.5 L378.5 1205.8 L379.7 1205.2 L380.8 1204.5 L382 1203.8 L383.2 1203 L384.5 1202.3 L385.8 1201.5 L387.1 1200.7 L388.5 1199.9 L389.9 1199 L391.3 1198.1 L392.7 1197.2 L394.2 1196.3 L395.7 1195.4 L397.3 1194.4 L398.8 1193.4 L400.4 1192.4 L402.1 1191.3 L403.7 1190.3 L405.4 1189.2 L407.1 1188.1 L408.8 1186.9 L410.6 1185.8 L412.3 1184.6 L414.1 1183.4 L416 1182.1 L417.8 1180.8 L419.7 1179.6 L421.5 1178.2 L423.4 1176.9 L425.4 1175.5 L427.3 1174.1 L429.3 1172.7 L431.2 1171.2 L433.2 1169.8 L435.2 1168.2 L437.2 1166.7 L439.3 1165.1 L441.3 1163.6 L443.4 1161.9 L445.5 1160.3 L447.6 1158.6 L449.7 1156.9 L451.8 1155.2 L453.9 1153.4 L456 1151.6 L458.2 1149.8 L460.3 1148 L462.5 1146.1 L464.6 1144.2 L466.8 1142.3 L469 1140.3 L471.2 1138.3 L473.4 1136.3 L475.6 1134.2 L477.7 1132.1 L479.9 1130 L482.1 1127.9 L484.4 1125.7 L486.6 1123.5 L488.8 1121.2 L491 1119 L493.2 1116.7 L495.4 1114.4 L497.6 1112 L499.8 1109.6 L502 1107.2 L504.2 1104.8 L506.4 1102.3 L508.6 1099.8 L510.8 1097.3 L513 1094.7 L515.3 1092.2 L517.5 1089.6 L519.7 1087 L521.9 1084.4 L524.1 1081.7 L526.3 1079.1 L528.5 1076.4 L530.7 1073.7 L532.9 1071 L535.1 1068.3 L537.3 1065.5 L539.5 1062.8 L541.8 1060 L544 1057.2 L546.2 1054.4 L548.4 1051.6 L550.6 1048.8 L552.8 1046 L555 1043.2 L557.2 1040.3 L559.4 1037.5 L561.6 1034.6 L563.8 1031.8 L566.1 1028.9 L568.3 1026.1 L570.5 1023.2 L572.7 1020.3 L574.9 1017.5 L577.1 1014.6 L579.3 1011.7 L581.5 1008.9 L583.7 1006 L585.9 1003.2 L588.2 1000.3 L590.4 997.5 L592.6 994.6 L594.8 991.8 L597 988.9 L599.2 986.1 L601.4 983.3 L603.6 980.5 L605.8 977.7 L608.1 974.9 L610.3 972.2 L612.5 969.4 L614.7 966.6 L616.9 963.9 L619.1 961.2 L621.3 958.5 L623.5 955.8 L625.7 953.1 L627.9 950.5 L630.2 947.9 L632.4 945.2 L634.6 942.6 L636.8 940 L639 937.5 L641.2 934.9 L643.4 932.3 L645.6 929.8 L647.8 927.2 L650.1 924.7 L652.3 922.2 L654.5 919.7 L656.7 917.2 L658.9 914.7 L661.1 912.2 L663.3 909.7 L665.5 907.2 L667.7 904.8 L670 902.3 L672.2 899.8 L674.4 897.4 L676.6 894.9 L678.8 892.4 L681 890 L683.2 887.5 L685.4 885.1 L687.6 882.6 L689.9 880.2 L692.1 877.7 L694.3 875.3 L696.5 872.8 L698.7 870.3 L700.9 867.9 L703.1 865.4 L705.3 862.9 L707.6 860.5 L709.8 858 L712 855.5 L714.2 853 L716.4 850.5 L718.6 848 L720.8 845.4 L723 842.9 L725.2 840.3 L727.5 837.8 L729.7 835.2 L731.9 832.6 L734.1 830.1 L736.3 827.5 L738.5 824.8 L740.7 822.2 L742.9 819.6 L745.1 816.9 L747.4 814.2 L749.6 811.5 L751.8 808.8 L754 806.1 L756.2 803.3 L758.4 800.6 L760.6 797.8 L762.9 795 L765.1 792.2 L767.3 789.4 L769.6 786.5 L771.9 783.7 L774.2 780.8 L776.5 778 L778.8 775.1 L781.2 772.2 L783.6 769.4 L786.1 766.5 L788.5 763.6 L791 760.7 L793.6 757.8 L796.2 754.9 L798.8 752 L801.5 749.2 L804.2 746.3 L807 743.4 L809.8 740.5 L812.7 737.7 L815.6 734.8 L818.6 732 L821.7 729.2 L824.9 726.3 L828.1 723.5 L831.3 720.7 L834.7 718 L838.1 715.2 L841.6 712.5 L845.2 709.7 L848.9 707 L852.6 704.3 L856.5 701.7 L860.4 699 L864.5 696.4 L868.6 693.8 L872.8 691.2 L877.1 688.7 L881.6 686.2 L886.1 683.7 L890.7 681.2 L895.5 678.8 L900.3 676.4 L905.3 674.1 L910.4 671.8 L915.6 669.5 L921 667.2 L926.4 665 L932 662.8 L937.8 660.7 L943.6 658.6 L949.6 656.6 L955.7 654.6 L962 652.6 L968.4 650.7 L975 648.8 L981.7 647 L988.5 645.2 L995.5 643.5 L1002.6 641.8 L1009.8 640.2 L1017.2 638.6 L1024.7 637.1 L1032.2 635.6 L1039.9 634.1 L1047.7 632.7 L1055.6 631.3 L1063.5 630 L1071.6 628.7 L1079.7 627.4 L1087.9 626.2 L1096.1 625 L1104.4 623.9 L1112.8 622.8 L1121.2 621.7 L1129.6 620.7 L1138.1 619.7 L1146.6 618.7 L1155.2 617.8 L1163.7 616.9 L1172.3 616 L1180.9 615.2 L1189.5 614.4 L1198.1 613.6 L1206.7 612.8 L1215.2 612.1 L1223.8 611.4 L1232.3 610.7 L1240.8 610.1 L1249.3 609.5 L1257.7 608.9 L1266.1 608.3 L1274.4 607.8 L1282.7 607.2 L1290.9 606.7 L1299 606.3 L1307.1 605.8 L1315.1 605.4 L1323 604.9 L1330.8 604.5 L1338.5 604.1 L1346.1 603.8 L1353.6 603.4 L1361 603.1 L1368.3 602.8 L1375.4 602.4 L1382.4 602.2 L1389.3 601.9 L1396.1 601.6 L1402.7 601.3 L1409.1 601.1 L1415.4 600.9 L1421.6 600.6 L1427.5 600.4 L1433.3 600.2 L1438.9 600 L1444.4 599.8 L1449.6 599.6 L1454.7 599.4 L1459.6 599.3 L1464.3 599.1 L1468.9 598.9 L1473.3 598.8 L1477.5 598.6 L1481.6 598.5 L1485.5 598.3 L1489.2 598.2 L1492.8 598 L1496.3 597.9 L1499.6 597.8 L1502.8 597.7 L1505.8 597.6 L1508.7 597.5 L1511.5 597.4 L1514.2 597.3 L1516.7 597.2 L1519.1 597.1 L1521.3 597 L1523.5 596.9 L1525.5 596.9 L1527.5 596.8 L1529.3 596.7 L1531 596.7 L1532.6 596.6 L1534.2 596.6 L1535.6 596.5 L1536.9 596.5 L1538.2 596.4 L1539.3 596.4 L1540.4 596.3 L1541.4 596.3 L1542.3 596.3 L1543.2 596.2 L1544.7 596.2 L1545.9 596.1 L1546.9 596.1 L1548 596.1 L1548.9 596 L1549.4 596" stroke="#000000" stroke-width="7.6" stroke-dasharray="37.2 42.3 47 42.3 47 42.3 47 38.9 47 38.7 47 41 47 41.1 47 42.3 47 42.3 47 42.3 47 42.3 47 42.2 47 41.7 47 41.7 47 41.7 47 41.8 47 4000" fill="none"/>
<rect x="337.9" y="1200.4" width="37.2" height="37.2" fill="#000000"/>
<rect x="470.1" y="1121.4" width="37.2" height="37.2" fill="#000000"/>
<rect x="602.7" y="929.9" width="37.2" height="37.2" fill="#000000"/>
<rect x="735.4" y="798.4" width="37.2" height="37.2" fill="#000000"/>
<rect x="868" y="601.4" width="37.2" height="37.2" fill="#000000"/>
<rect x="1530.8" y="577.4" width="37.2" height="37.2" fill="#000000"/>
<path d="M356.5 1007.6 L357.3 1007.2 L358.1 1006.7 L359 1006.2 L359.8 1005.8 L360.9 1005.2 L361.7 1004.8 L362.6 1004.3 L363.5 1003.7 L364.6 1003.2 L365.8 1002.5 L367.1 1001.8 L368.5 1001 L369.3 1000.6 L370 1000.2 L370.8 999.7 L371.7 999.3 L372.6 998.8 L373.5 998.3 L374.4 997.8 L375.4 997.2 L376.4 996.7 L377.4 996.1 L378.5 995.5 L379.7 994.9 L380.8 994.3 L382 993.6 L383.2 992.9 L384.5 992.2 L385.8 991.5 L387.1 990.8 L388.5 990 L389.9 989.3 L391.3 988.5 L392.7 987.7 L394.2 986.8 L395.7 986 L397.3 985.1 L398.8 984.2 L400.4 983.3 L402.1 982.4 L403.7 981.5 L405.4 980.5 L407.1 979.5 L408.8 978.5 L410.6 977.5 L412.3 976.5 L414.1 975.4 L416 974.4 L417.8 973.3 L419.7 972.2 L421.5 971.1 L423.4 969.9 L425.4 968.8 L427.3 967.6 L429.3 966.4 L431.2 965.2 L433.2 964 L435.2 962.7 L437.2 961.5 L439.3 960.2 L441.3 958.9 L443.4 957.6 L445.5 956.3 L447.6 954.9 L449.7 953.6 L451.8 952.2 L453.9 950.8 L456 949.4 L458.2 948 L460.3 946.6 L462.5 945.1 L464.6 943.6 L466.8 942.2 L469 940.7 L471.2 939.1 L473.4 937.6 L475.6 936.1 L477.7 934.5 L479.9 932.9 L482.1 931.4 L484.4 929.7 L486.6 928.1 L488.8 926.5 L491 924.9 L493.2 923.2 L495.4 921.5 L497.6 919.8 L499.8 918.1 L502 916.4 L504.2 914.7 L506.4 913 L508.6 911.2 L510.8 909.4 L513 907.7 L515.3 905.9 L517.5 904.1 L519.7 902.2 L521.9 900.4 L524.1 898.6 L526.3 896.7 L528.5 894.9 L530.7 893 L532.9 891.1 L535.1 889.2 L537.3 887.3 L539.5 885.4 L541.8 883.5 L544 881.5 L546.2 879.6 L548.4 877.6 L550.6 875.7 L552.8 873.7 L555 871.7 L557.2 869.7 L559.4 867.7 L561.6 865.7 L563.8 863.7 L566.1 861.7 L568.3 859.7 L570.5 857.6 L572.7 855.6 L574.9 853.5 L577.1 851.5 L579.3 849.4 L581.5 847.3 L583.7 845.2 L585.9 843.1 L588.2 841 L590.4 838.9 L592.6 836.8 L594.8 834.7 L597 832.6 L599.2 830.5 L601.4 828.3 L603.6 826.2 L605.8 824.1 L608.1 821.9 L610.3 819.8 L612.5 817.6 L614.7 815.5 L616.9 813.3 L619.1 811.2 L621.3 809 L623.5 806.8 L625.7 804.6 L627.9 802.5 L630.2 800.3 L632.4 798.1 L634.6 795.9 L636.8 793.7 L639 791.4 L641.2 789.2 L643.4 787 L645.6 784.7 L647.8 782.4 L650.1 780.1 L652.3 777.8 L654.5 775.5 L656.7 773.2 L658.9 770.8 L661.1 768.4 L663.3 766 L665.5 763.6 L667.7 761.2 L670 758.7 L672.2 756.2 L674.4 753.7 L676.6 751.2 L678.8 748.6 L681 746 L683.2 743.4 L685.4 740.7 L687.6 738 L689.9 735.3 L692.1 732.5 L694.3 729.7 L696.5 726.9 L698.7 724 L700.9 721.1 L703.1 718.2 L705.3 715.2 L707.6 712.2 L709.8 709.1 L712 706 L714.2 702.9 L716.4 699.7 L718.6 696.5 L720.8 693.2 L723 689.8 L725.2 686.5 L727.5 683 L729.7 679.6 L731.9 676 L734.1 672.4 L736.3 668.8 L738.5 665.1 L740.7 661.4 L742.9 657.6 L745.1 653.7 L747.4 649.8 L749.6 645.8 L751.8 641.8 L754 637.7 L756.2 633.5 L758.4 629.3 L760.6 625.1 L762.9 620.7 L765.1 616.4 L767.3 611.9 L769.6 607.5 L771.9 602.9 L774.2 598.4 L776.5 593.8 L778.8 589.2 L781.2 584.5 L783.6 579.8 L786.1 575.1 L788.5 570.3 L791 565.6 L793.6 560.8 L796.2 556 L798.8 551.2 L801.5 546.3 L804.2 541.5 L807 536.6 L809.8 531.8 L812.7 526.9 L815.6 522.1 L818.6 517.2 L821.7 512.4 L824.9 507.6 L828.1 502.8 L831.3 497.9 L834.7 493.2 L838.1 488.4 L841.6 483.6 L845.2 478.9 L848.9 474.2 L852.6 469.6 L856.5 464.9 L860.4 460.3 L864.5 455.8 L868.6 451.3 L872.8 446.8 L877.1 442.3 L881.6 438 L886.1 433.6 L890.7 429.4 L895.5 425.1 L900.3 421 L905.3 416.9 L910.4 412.9 L915.6 408.9 L921 405 L926.4 401.2 L932 397.4 L937.8 393.7 L943.6 390.1 L949.6 386.6 L955.7 383.2 L962 379.9 L968.4 376.6 L975 373.5 L981.7 370.4 L988.5 367.4 L995.5 364.6 L1002.6 361.8 L1009.8 359.1 L1017.2 356.5 L1024.7 354 L1032.2 351.5 L1039.9 349.2 L1047.7 346.9 L1055.6 344.7 L1063.5 342.6 L1071.6 340.6 L1079.7 338.7 L1087.9 336.8 L1096.1 335 L1104.4 333.2 L1112.8 331.6 L1121.2 330 L1129.6 328.4 L1138.1 327 L1146.6 325.6 L1155.2 324.2 L1163.7 323 L1172.3 321.7 L1180.9 320.6 L1189.5 319.5 L1198.1 318.4 L1206.7 317.4 L1215.2 316.5 L1223.8 315.6 L1232.3 314.7 L1240.8 313.9 L1249.3 313.2 L1257.7 312.5 L1266.1 311.8 L1274.4 311.2 L1282.7 310.6 L1290.9 310 L1299 309.5 L1307.1 309 L1315.1 308.6 L1323 308.1 L1330.8 307.7 L1338.5 307.4 L1346.1 307 L1353.6 306.7 L1361 306.5 L1368.3 306.2 L1375.4 305.9 L1382.4 305.7 L1389.3 305.5 L1396.1 305.3 L1402.7 305.2 L1409.1 305 L1415.4 304.8 L1421.6 304.7 L1427.5 304.6 L1433.3 304.5 L1438.9 304.3 L1444.4 304.2 L1449.6 304.1 L1454.7 304 L1459.6 303.9 L1464.3 303.8 L1468.9 303.7 L1473.3 303.6 L1477.5 303.5 L1481.6 303.4 L1485.5 303.4 L1489.2 303.3 L1492.8 303.2 L1496.3 303.1 L1499.6 303.1 L1502.8 303 L1505.8 302.9 L1508.7 302.9 L1511.5 302.8 L1514.2 302.7 L1516.7 302.7 L1519.1 302.6 L1521.3 302.6 L1523.5 302.5 L1525.5 302.5 L1527.5 302.5 L1529.3 302.4 L1531 302.4 L1532.6 302.4 L1534.2 302.3 L1535.6 302.3 L1536.9 302.3 L1538.2 302.2 L1539.3 302.2 L1540.4 302.2 L1541.4 302.2 L1542.3 302.1 L1543.2 302.1 L1544.7 302.1 L1545.9 302.1 L1546.9 302.1 L1548 302 L1548.9 302 L1549.4 302" stroke="#ff0000" stroke-width="7.6" stroke-dasharray="40.2 42.3 47 42.3 47 42.2 47 39.5 47 39.5 47 39.5 47 39.8 47 42.3 47 42.3 47 42.3 47 42.3 47 42.3 47 42.3 47 42.3 47 42.3 47 42.3 47 4000" fill="none"/>
<circle cx="356.5" cy="1007.6" r="20.8" fill="#ff0000"/>
<circle cx="488.7" cy="935.1" r="20.8" fill="#ff0000"/>
<circle cx="621.3" cy="811" r="20.8" fill="#ff0000"/>
<circle cx="754" cy="674.8" r="20.8" fill="#ff0000"/>
<circle cx="886.6" cy="316" r="20.8" fill="#ff0000"/>
<circle cx="1549.4" cy="302" r="20.8" fill="#ff0000"/>
<path d="M356.5 932.6 L357.1 932 L357.7 931.3 L358.5 930.6 L359.3 929.8 L359.8 929.2 L360.5 928.6 L361.3 927.8 L362.1 927 L363 926 L364.1 925 L365.2 923.8 L365.8 923.2 L366.4 922.6 L367.1 921.9 L367.8 921.2 L368.5 920.5 L369.3 919.7 L370 919 L370.8 918.1 L371.7 917.3 L372.6 916.4 L373.5 915.5 L374.4 914.5 L375.4 913.6 L376.4 912.5 L377.4 911.5 L378.5 910.4 L379.7 909.3 L380.8 908.1 L382 906.9 L383.2 905.7 L384.5 904.4 L385.8 903.1 L387.1 901.7 L388.5 900.4 L389.9 899 L391.3 897.6 L392.7 896.1 L394.2 894.6 L395.7 893.1 L397.3 891.6 L398.8 890 L400.4 888.5 L402.1 886.9 L403.7 885.2 L405.4 883.6 L407.1 881.9 L408.8 880.2 L410.6 878.5 L412.3 876.8 L414.1 875 L416 873.3 L417.8 871.5 L419.7 869.7 L421.5 867.9 L423.4 866.1 L425.4 864.3 L427.3 862.4 L429.3 860.6 L431.2 858.7 L433.2 856.9 L435.2 855 L437.2 853.1 L439.3 851.2 L441.3 849.3 L443.4 847.4 L445.5 845.5 L447.6 843.6 L449.7 841.7 L451.8 839.8 L453.9 837.9 L456 836 L458.2 834.1 L460.3 832.2 L462.5 830.3 L464.6 828.4 L466.8 826.5 L469 824.6 L471.2 822.7 L473.4 820.9 L475.6 819 L477.7 817.2 L479.9 815.3 L482.1 813.5 L484.4 811.7 L486.6 809.9 L488.8 808.1 L491 806.3 L493.2 804.6 L495.4 802.8 L497.6 801.1 L499.8 799.4 L502 797.7 L504.2 796 L506.4 794.3 L508.6 792.6 L510.8 790.9 L513 789.3 L515.3 787.6 L517.5 785.9 L519.7 784.3 L521.9 782.7 L524.1 781 L526.3 779.4 L528.5 777.8 L530.7 776.2 L532.9 774.6 L535.1 773 L537.3 771.3 L539.5 769.7 L541.8 768.1 L544 766.5 L546.2 764.9 L548.4 763.3 L550.6 761.7 L552.8 760.1 L555 758.4 L557.2 756.8 L559.4 755.2 L561.6 753.6 L563.8 751.9 L566.1 750.3 L568.3 748.6 L570.5 747 L572.7 745.3 L574.9 743.6 L577.1 741.9 L579.3 740.2 L581.5 738.5 L583.7 736.8 L585.9 735.1 L588.2 733.3 L590.4 731.6 L592.6 729.8 L594.8 728 L597 726.2 L599.2 724.4 L601.4 722.5 L603.6 720.7 L605.8 718.8 L608.1 716.9 L610.3 715 L612.5 713.1 L614.7 711.1 L616.9 709.2 L619.1 707.2 L621.3 705.2 L623.5 703.1 L625.7 701.1 L627.9 699 L630.2 696.9 L632.4 694.8 L634.6 692.6 L636.8 690.4 L639 688.3 L641.2 686 L643.4 683.8 L645.6 681.5 L647.8 679.2 L650.1 676.9 L652.3 674.6 L654.5 672.2 L656.7 669.9 L658.9 667.5 L661.1 665 L663.3 662.6 L665.5 660.1 L667.7 657.6 L670 655.1 L672.2 652.6 L674.4 650 L676.6 647.4 L678.8 644.8 L681 642.1 L683.2 639.5 L685.4 636.8 L687.6 634.1 L689.9 631.4 L692.1 628.6 L694.3 625.8 L696.5 623 L698.7 620.2 L700.9 617.3 L703.1 614.5 L705.3 611.6 L707.6 608.7 L709.8 605.7 L712 602.7 L714.2 599.7 L716.4 596.7 L718.6 593.7 L720.8 590.6 L723 587.5 L725.2 584.4 L727.5 581.3 L729.7 578.1 L731.9 574.9 L734.1 571.7 L736.3 568.5 L738.5 565.2 L740.7 561.9 L742.9 558.6 L745.1 555.3 L747.4 551.9 L749.6 548.5 L751.8 545.1 L754 541.7 L756.2 538.2 L758.4 534.7 L760.6 531.2 L762.9 527.7 L765.1 524.2 L767.3 520.6 L769.6 517 L771.9 513.5 L774.2 509.9 L776.5 506.2 L778.8 502.6 L781.2 499 L783.6 495.3 L786.1 491.7 L788.5 488.1 L791 484.4 L793.6 480.8 L796.2 477.1 L798.8 473.5 L801.5 469.8 L804.2 466.2 L807 462.6 L809.8 458.9 L812.7 455.3 L815.6 451.7 L818.6 448.1 L821.7 444.6 L824.9 441 L828.1 437.5 L831.3 433.9 L834.7 430.4 L838.1 427 L841.6 423.5 L845.2 420.1 L848.9 416.7 L852.6 413.3 L856.5 409.9 L860.4 406.6 L864.5 403.3 L868.6 400.1 L872.8 396.9 L877.1 393.7 L881.6 390.5 L886.1 387.4 L890.7 384.4 L895.5 381.4 L900.3 378.4 L905.3 375.4 L910.4 372.6 L915.6 369.7 L921 367 L926.4 364.2 L932 361.5 L937.8 358.9 L943.6 356.4 L949.6 353.8 L955.7 351.4 L962 349 L968.4 346.7 L975 344.4 L981.7 342.2 L988.5 340.1 L995.5 338 L1002.6 336 L1009.8 334.1 L1017.2 332.2 L1024.7 330.3 L1032.2 328.6 L1039.9 326.9 L1047.7 325.2 L1055.6 323.6 L1063.5 322 L1071.6 320.6 L1079.7 319.1 L1087.9 317.7 L1096.1 316.4 L1104.4 315.1 L1112.8 313.8 L1121.2 312.6 L1129.6 311.5 L1138.1 310.4 L1146.6 309.3 L1155.2 308.3 L1163.7 307.3 L1172.3 306.4 L1180.9 305.5 L1189.5 304.6 L1198.1 303.8 L1206.7 303 L1215.2 302.3 L1223.8 301.6 L1232.3 300.9 L1240.8 300.2 L1249.3 299.6 L1257.7 299.1 L1266.1 298.5 L1274.4 298 L1282.7 297.5 L1290.9 297 L1299 296.6 L1307.1 296.1 L1315.1 295.7 L1323 295.4 L1330.8 295 L1338.5 294.7 L1346.1 294.4 L1353.6 294.1 L1361 293.8 L1368.3 293.6 L1375.4 293.3 L1382.4 293.1 L1389.3 292.9 L1396.1 292.7 L1402.7 292.5 L1409.1 292.3 L1415.4 292.1 L1421.6 292 L1427.5 291.8 L1433.3 291.7 L1438.9 291.6 L1444.4 291.4 L1449.6 291.3 L1454.7 291.2 L1459.6 291 L1464.3 290.9 L1468.9 290.8 L1473.3 290.7 L1477.5 290.6 L1481.6 290.5 L1485.5 290.4 L1489.2 290.3 L1492.8 290.2 L1496.3 290.1 L1499.6 290 L1502.8 290 L1505.8 289.9 L1508.7 289.8 L1511.5 289.7 L1514.2 289.7 L1516.7 289.6 L1519.1 289.6 L1521.3 289.5 L1523.5 289.4 L1525.5 289.4 L1527.5 289.3 L1529.3 289.3 L1531 289.3 L1532.6 289.2 L1534.2 289.2 L1535.6 289.1 L1536.9 289.1 L1538.2 289.1 L1539.3 289.1 L1540.4 289 L1541.4 289 L1542.3 289 L1543.2 289 L1544.7 288.9 L1545.9 288.9 L1546.9 288.9 L1548 288.8 L1548.9 288.8 L1549.4 288.8" stroke="#0000ff" stroke-width="7.6" stroke-dasharray="40.2 42.3 47 42.3 47 42.3 47 41.5 47 41.5 47 41.5 47 41.6 47 42.3 47 42.3 47 42.3 47 42.3 47 42.3 47 42.3 47 41.4 47 41.4 47 41.4 47 4000" fill="none"/>
<polygon points="356.5,904.3 380.9,946.8 332.1,946.8" fill="#0000ff"/>
<polygon points="488.7,771 513.1,813.5 464.3,813.5" fill="#0000ff"/>
<polygon points="621.3,690.5 645.7,733 596.9,733" fill="#0000ff"/>
<polygon points="754,528.2 778.4,570.7 729.6,570.7" fill="#0000ff"/>
<polygon points="886.6,277 911,319.5 862.2,319.5" fill="#0000ff"/>
<polygon points="1549.4,260.5 1573.8,303 1525,303" fill="#0000ff"/>
<path d="M356.5 1348.2 L356.8 1347.4 L357.2 1346.6 L357.6 1345.8 L358.1 1344.6 L358.5 1343.7 L359 1342.6 L359.5 1341.3 L360.2 1339.9 L360.5 1339.2 L360.9 1338.3 L361.3 1337.5 L361.7 1336.6 L362.1 1335.6 L362.6 1334.6 L363 1333.5 L363.5 1332.4 L364.1 1331.2 L364.6 1329.9 L365.2 1328.6 L365.8 1327.2 L366.4 1325.8 L367.1 1324.3 L367.8 1322.8 L368.5 1321.1 L369.3 1319.5 L370 1317.7 L370.8 1315.9 L371.7 1314 L372.6 1312 L373.5 1309.9 L374.4 1307.8 L375.4 1305.6 L376.4 1303.3 L377.4 1301 L378.5 1298.5 L379.7 1296 L380.8 1293.4 L382 1290.7 L383.2 1288 L384.5 1285.1 L385.8 1282.2 L387.1 1279.2 L388.5 1276.2 L389.9 1273.1 L391.3 1269.9 L392.7 1266.7 L394.2 1263.4 L395.7 1260 L397.3 1256.6 L398.8 1253.1 L400.4 1249.6 L402.1 1246.1 L403.7 1242.5 L405.4 1238.8 L407.1 1235.1 L408.8 1231.4 L410.6 1227.6 L412.3 1223.8 L414.1 1219.9 L416 1216 L417.8 1212.1 L419.7 1208.2 L421.5 1204.2 L423.4 1200.2 L425.4 1196.2 L427.3 1192.1 L429.3 1188.1 L431.2 1184 L433.2 1179.9 L435.2 1175.8 L437.2 1171.7 L439.3 1167.6 L441.3 1163.5 L443.4 1159.4 L445.5 1155.2 L447.6 1151.1 L449.7 1147 L451.8 1142.9 L453.9 1138.8 L456 1134.7 L458.2 1130.6 L460.3 1126.5 L462.5 1122.5 L464.6 1118.4 L466.8 1114.4 L469 1110.4 L471.2 1106.4 L473.4 1102.5 L475.6 1098.5 L477.7 1094.6 L479.9 1090.8 L482.1 1087 L484.4 1083.2 L486.6 1079.4 L488.8 1075.7 L491 1072 L493.2 1068.4 L495.4 1064.8 L497.6 1061.3 L499.8 1057.7 L502 1054.3 L504.2 1050.8 L506.4 1047.4 L508.6 1044 L510.8 1040.7 L513 1037.4 L515.3 1034.1 L517.5 1030.8 L519.7 1027.6 L521.9 1024.3 L524.1 1021.1 L526.3 1018 L528.5 1014.8 L530.7 1011.7 L532.9 1008.6 L535.1 1005.5 L537.3 1002.4 L539.5 999.3 L541.8 996.2 L544 993.2 L546.2 990.1 L548.4 987.1 L550.6 984 L552.8 981 L555 978 L557.2 975 L559.4 971.9 L561.6 968.9 L563.8 965.9 L566.1 962.9 L568.3 959.8 L570.5 956.8 L572.7 953.7 L574.9 950.7 L577.1 947.6 L579.3 944.5 L581.5 941.4 L583.7 938.3 L585.9 935.2 L588.2 932.1 L590.4 928.9 L592.6 925.7 L594.8 922.5 L597 919.3 L599.2 916.1 L601.4 912.8 L603.6 909.5 L605.8 906.2 L608.1 902.8 L610.3 899.4 L612.5 896 L614.7 892.6 L616.9 889.1 L619.1 885.6 L621.3 882 L623.5 878.4 L625.7 874.8 L627.9 871.1 L630.2 867.4 L632.4 863.6 L634.6 859.9 L636.8 856.1 L639 852.2 L641.2 848.3 L643.4 844.4 L645.6 840.4 L647.8 836.5 L650.1 832.5 L652.3 828.4 L654.5 824.3 L656.7 820.2 L658.9 816.1 L661.1 811.9 L663.3 807.7 L665.5 803.5 L667.7 799.3 L670 795 L672.2 790.7 L674.4 786.4 L676.6 782.1 L678.8 777.7 L681 773.3 L683.2 768.9 L685.4 764.4 L687.6 760 L689.9 755.5 L692.1 751 L694.3 746.5 L696.5 742 L698.7 737.4 L700.9 732.8 L703.1 728.2 L705.3 723.6 L707.6 719 L709.8 714.4 L712 709.7 L714.2 705.1 L716.4 700.4 L718.6 695.7 L720.8 691 L723 686.3 L725.2 681.5 L727.5 676.8 L729.7 672 L731.9 667.3 L734.1 662.5 L736.3 657.7 L738.5 653 L740.7 648.2 L742.9 643.4 L745.1 638.6 L747.4 633.8 L749.6 629 L751.8 624.1 L754 619.3 L756.2 614.5 L758.4 609.7 L760.6 604.8 L762.9 600 L765.1 595.2 L767.3 590.4 L769.6 585.6 L771.9 580.8 L774.2 576 L776.5 571.2 L778.8 566.4 L781.2 561.6 L783.6 556.9 L786.1 552.1 L788.5 547.4 L791 542.7 L793.6 538 L796.2 533.4 L798.8 528.7 L801.5 524.1 L804.2 519.5 L807 514.9 L809.8 510.3 L812.7 505.8 L815.6 501.3 L818.6 496.9 L821.7 492.4 L824.9 488 L828.1 483.6 L831.3 479.3 L834.7 475 L838.1 470.8 L841.6 466.5 L845.2 462.4 L848.9 458.2 L852.6 454.1 L856.5 450.1 L860.4 446.1 L864.5 442.1 L868.6 438.2 L872.8 434.3 L877.1 430.5 L881.6 426.8 L886.1 423 L890.7 419.4 L895.5 415.8 L900.3 412.3 L905.3 408.8 L910.4 405.4 L915.6 402 L921 398.7 L926.4 395.5 L932 392.3 L937.8 389.2 L943.6 386.2 L949.6 383.2 L955.7 380.3 L962 377.5 L968.4 374.8 L975 372.1 L981.7 369.5 L988.5 367 L995.5 364.5 L1002.6 362.1 L1009.8 359.8 L1017.2 357.6 L1024.7 355.4 L1032.2 353.3 L1039.9 351.3 L1047.7 349.3 L1055.6 347.4 L1063.5 345.6 L1071.6 343.8 L1079.7 342.1 L1087.9 340.4 L1096.1 338.8 L1104.4 337.3 L1112.8 335.8 L1121.2 334.3 L1129.6 332.9 L1138.1 331.6 L1146.6 330.3 L1155.2 329.1 L1163.7 327.9 L1172.3 326.8 L1180.9 325.7 L1189.5 324.7 L1198.1 323.7 L1206.7 322.7 L1215.2 321.8 L1223.8 321 L1232.3 320.1 L1240.8 319.3 L1249.3 318.6 L1257.7 317.9 L1266.1 317.2 L1274.4 316.5 L1282.7 315.9 L1290.9 315.4 L1299 314.8 L1307.1 314.3 L1315.1 313.8 L1323 313.3 L1330.8 312.9 L1338.5 312.5 L1346.1 312.1 L1353.6 311.7 L1361 311.3 L1368.3 311 L1375.4 310.7 L1382.4 310.4 L1389.3 310.1 L1396.1 309.9 L1402.7 309.6 L1409.1 309.4 L1415.4 309.2 L1421.6 308.9 L1427.5 308.7 L1433.3 308.6 L1438.9 308.4 L1444.4 308.2 L1449.6 308 L1454.7 307.8 L1459.6 307.7 L1464.3 307.5 L1468.9 307.4 L1473.3 307.2 L1477.5 307.1 L1481.6 307 L1485.5 306.8 L1489.2 306.7 L1492.8 306.6 L1496.3 306.5 L1499.6 306.4 L1502.8 306.2 L1505.8 306.1 L1508.7 306 L1511.5 306 L1514.2 305.9 L1516.7 305.8 L1519.1 305.7 L1521.3 305.6 L1523.5 305.6 L1525.5 305.5 L1527.5 305.4 L1529.3 305.4 L1531 305.3 L1532.6 305.3 L1534.2 305.2 L1535.6 305.2 L1536.9 305.1 L1538.2 305.1 L1539.3 305 L1540.4 305 L1541.4 305 L1542.3 304.9 L1543.2 304.9 L1544.7 304.9 L1545.9 304.8 L1546.9 304.8 L1548 304.7 L1548.9 304.7 L1549.4 304.7" stroke="#00ff00" stroke-width="7.6" stroke-dasharray="40.2 42.3 47 42.3 47 41 47 40.8 47 40.8 47 40.8 47 40.9 47 40.9 47 40.9 47 40.9 47 41 47 42.2 47 42.2 47 42.2 47 42.2 47 42 47 41.3 47 41.3 47 41.3 47 4000" fill="none"/>
<polygon points="356.5,1376.5 380.9,1334 332.1,1334" fill="#00ff00"/>
<polygon points="488.7,1078.5 513.1,1036 464.3,1036" fill="#00ff00"/>
<polygon points="621.3,933.5 645.7,891 596.9,891" fill="#00ff00"/>
<polygon points="754,649.3 778.4,606.8 729.6,606.8" fill="#00ff00"/>
<polygon points="886.6,355 911,312.5 862.2,312.5" fill="#00ff00"/>
<polygon points="1549.4,333 1573.8,290.5 1525,290.5" fill="#00ff00"/>
<path d="M356.5 1429 L356.8 1428.1 L357.2 1427.2 L357.6 1426.2 L357.9 1425.4 L358.3 1424.4 L358.7 1423.2 L359.3 1421.9 L359.8 1420.4 L360.2 1419.5 L360.5 1418.6 L360.9 1417.7 L361.3 1416.7 L361.7 1415.6 L362.1 1414.5 L362.6 1413.3 L363 1412.1 L363.5 1410.8 L364.1 1409.4 L364.6 1408 L365.2 1406.5 L365.8 1405 L366.4 1403.3 L367.1 1401.6 L367.8 1399.8 L368.5 1398 L369.3 1396 L370 1394 L370.8 1391.9 L371.7 1389.7 L372.6 1387.4 L373.5 1385.1 L374.4 1382.7 L375.4 1380.1 L376.4 1377.5 L377.4 1374.8 L378.5 1372 L379.7 1369.1 L380.8 1366.1 L382 1363 L383.2 1359.9 L384.5 1356.6 L385.8 1353.3 L387.1 1349.9 L388.5 1346.4 L389.9 1342.8 L391.3 1339.2 L392.7 1335.5 L394.2 1331.8 L395.7 1328 L397.3 1324.1 L398.8 1320.2 L400.4 1316.2 L402.1 1312.1 L403.7 1308.1 L405.4 1303.9 L407.1 1299.8 L408.8 1295.6 L410.6 1291.3 L412.3 1287 L414.1 1282.7 L416 1278.4 L417.8 1274.1 L419.7 1269.7 L421.5 1265.3 L423.4 1260.9 L425.4 1256.5 L427.3 1252 L429.3 1247.6 L431.2 1243.1 L433.2 1238.7 L435.2 1234.2 L437.2 1229.8 L439.3 1225.4 L441.3 1220.9 L443.4 1216.5 L445.5 1212.1 L447.6 1207.7 L449.7 1203.4 L451.8 1199 L453.9 1194.7 L456 1190.5 L458.2 1186.2 L460.3 1182 L462.5 1177.8 L464.6 1173.7 L466.8 1169.6 L469 1165.5 L471.2 1161.5 L473.4 1157.6 L475.6 1153.7 L477.7 1149.9 L479.9 1146.1 L482.1 1142.4 L484.4 1138.7 L486.6 1135.2 L488.8 1131.7 L491 1128.2 L493.2 1124.9 L495.4 1121.6 L497.6 1118.4 L499.8 1115.2 L502 1112.1 L504.2 1109.1 L506.4 1106.2 L508.6 1103.3 L510.8 1100.4 L513 1097.7 L515.3 1094.9 L517.5 1092.3 L519.7 1089.6 L521.9 1087.1 L524.1 1084.5 L526.3 1082.1 L528.5 1079.6 L530.7 1077.3 L532.9 1074.9 L535.1 1072.6 L537.3 1070.3 L539.5 1068.1 L541.8 1065.9 L544 1063.7 L546.2 1061.6 L548.4 1059.5 L550.6 1057.4 L552.8 1055.4 L555 1053.4 L557.2 1051.4 L559.4 1049.4 L561.6 1047.4 L563.8 1045.5 L566.1 1043.5 L568.3 1041.6 L570.5 1039.7 L572.7 1037.8 L574.9 1035.9 L577.1 1034.1 L579.3 1032.2 L581.5 1030.3 L583.7 1028.4 L585.9 1026.6 L588.2 1024.7 L590.4 1022.8 L592.6 1020.9 L594.8 1019.1 L597 1017.2 L599.2 1015.2 L601.4 1013.3 L603.6 1011.4 L605.8 1009.4 L608.1 1007.5 L610.3 1005.5 L612.5 1003.5 L614.7 1001.5 L616.9 999.4 L619.1 997.3 L621.3 995.2 L623.5 993.1 L625.7 990.9 L627.9 988.7 L630.2 986.5 L632.4 984.2 L634.6 981.9 L636.8 979.6 L639 977.2 L641.2 974.8 L643.4 972.4 L645.6 969.9 L647.8 967.4 L650.1 964.9 L652.3 962.3 L654.5 959.7 L656.7 957 L658.9 954.3 L661.1 951.6 L663.3 948.8 L665.5 945.9 L667.7 943.1 L670 940.2 L672.2 937.2 L674.4 934.2 L676.6 931.1 L678.8 928 L681 924.9 L683.2 921.7 L685.4 918.5 L687.6 915.2 L689.9 911.8 L692.1 908.5 L694.3 905 L696.5 901.5 L698.7 898 L700.9 894.4 L703.1 890.7 L705.3 887 L707.6 883.3 L709.8 879.5 L712 875.6 L714.2 871.6 L716.4 867.7 L718.6 863.6 L720.8 859.5 L723 855.3 L725.2 851.1 L727.5 846.8 L729.7 842.5 L731.9 838.1 L734.1 833.6 L736.3 829.1 L738.5 824.5 L740.7 819.8 L742.9 815 L745.1 810.2 L747.4 805.4 L749.6 800.4 L751.8 795.4 L754 790.4 L756.2 785.2 L758.4 780 L760.6 774.7 L762.9 769.4 L765.1 764 L767.3 758.6 L769.6 753.1 L771.9 747.5 L774.2 741.9 L776.5 736.3 L778.8 730.6 L781.2 724.9 L783.6 719.2 L786.1 713.4 L788.5 707.6 L791 701.8 L793.6 696 L796.2 690.1 L798.8 684.2 L801.5 678.3 L804.2 672.4 L807 666.5 L809.8 660.6 L812.7 654.7 L815.6 648.8 L818.6 643 L821.7 637.1 L824.9 631.2 L828.1 625.4 L831.3 619.5 L834.7 613.7 L838.1 608 L841.6 602.2 L845.2 596.5 L848.9 590.8 L852.6 585.2 L856.5 579.5 L860.4 574 L864.5 568.5 L868.6 563 L872.8 557.6 L877.1 552.2 L881.6 546.9 L886.1 541.7 L890.7 536.6 L895.5 531.5 L900.3 526.4 L905.3 521.5 L910.4 516.6 L915.6 511.8 L921 507.1 L926.4 502.5 L932 498 L937.8 493.5 L943.6 489.2 L949.6 484.9 L955.7 480.8 L962 476.8 L968.4 472.9 L975 469 L981.7 465.4 L988.5 461.8 L995.5 458.3 L1002.6 454.9 L1009.8 451.7 L1017.2 448.5 L1024.7 445.5 L1032.2 442.6 L1039.9 439.7 L1047.7 437 L1055.6 434.3 L1063.5 431.8 L1071.6 429.3 L1079.7 427 L1087.9 424.7 L1096.1 422.5 L1104.4 420.4 L1112.8 418.4 L1121.2 416.4 L1129.6 414.6 L1138.1 412.8 L1146.6 411.1 L1155.2 409.5 L1163.7 407.9 L1172.3 406.4 L1180.9 405 L1189.5 403.7 L1198.1 402.4 L1206.7 401.2 L1215.2 400 L1223.8 398.9 L1232.3 397.9 L1240.8 396.9 L1249.3 396 L1257.7 395.1 L1266.1 394.3 L1274.4 393.5 L1282.7 392.8 L1290.9 392.1 L1299 391.4 L1307.1 390.8 L1315.1 390.3 L1323 389.8 L1330.8 389.3 L1338.5 388.8 L1346.1 388.4 L1353.6 388 L1361 387.7 L1368.3 387.4 L1375.4 387.1 L1382.4 386.8 L1389.3 386.5 L1396.1 386.3 L1402.7 386.1 L1409.1 385.9 L1415.4 385.7 L1421.6 385.5 L1427.5 385.3 L1433.3 385.2 L1438.9 385 L1444.4 384.9 L1449.6 384.7 L1454.7 384.6 L1459.6 384.4 L1464.3 384.3 L1468.9 384.2 L1473.3 384.1 L1477.5 384 L1481.6 383.8 L1485.5 383.7 L1489.2 383.6 L1492.8 383.5 L1496.3 383.4 L1499.6 383.4 L1502.8 383.3 L1505.8 383.2 L1508.7 383.1 L1511.5 383 L1514.2 383 L1516.7 382.9 L1519.1 382.8 L1521.3 382.8 L1523.5 382.7 L1525.5 382.6 L1527.5 382.6 L1529.3 382.5 L1531 382.5 L1532.6 382.5 L1534.2 382.4 L1535.6 382.4 L1536.9 382.3 L1538.2 382.3 L1539.3 382.3 L1540.4 382.2 L1541.4 382.2 L1542.3 382.2 L1543.2 382.2 L1544.7 382.1 L1545.9 382.1 L1546.9 382.1 L1548 382 L1548.9 382 L1549.4 382" stroke="#8000ff" stroke-width="7.6" stroke-dasharray="42.2 42 47 42 47 42 47 41.3 47 41.2 47 41.2 47 41 47 39.6 47 39.6 47 39.6 47 39.7 47 42.1 47 42.1 47 42.1 47 42.1 47 42 47 41.7 47 41.7 47 41.7 47 4000" fill="none"/>
<polygon points="356.5,1402.8 382.7,1429 356.5,1455.2 330.3,1429" fill="#8000ff"/>
<polygon points="488.7,1060.8 514.9,1087 488.7,1113.2 462.5,1087" fill="#8000ff"/>
<polygon points="621.3,986.8 647.5,1013 621.3,1039.2 595.1,1013" fill="#8000ff"/>
<polygon points="754,806.1 780.2,832.3 754,858.5 727.8,832.3" fill="#8000ff"/>
<polygon points="886.6,373.8 912.8,400 886.6,426.2 860.4,400" fill="#8000ff"/>
<polygon points="1549.4,355.8 1575.6,382 1549.4,408.2 1523.2,382" fill="#8000ff"/>
</g>
<g fill="#000">
<rect x="221.5" y="228.3" width="5.5" height="1286.7" fill="#000"/>
<rect x="1811.3" y="228.3" width="5.4" height="1308" fill="#000"/>
<rect x="211" y="1509.5" width="1616" height="5.5" fill="#000"/>
<rect x="197" y="1429.9" width="25" height="5.2" fill="#000"/>
<rect x="211" y="1349.7" width="11" height="5.2" fill="#000"/>
<rect x="197" y="1269.4" width="25" height="5.2" fill="#000"/>
<rect x="211" y="1189.2" width="11" height="5.2" fill="#000"/>
<rect x="197" y="1108.9" width="25" height="5.2" fill="#000"/>
<rect x="211" y="1028.7" width="11" height="5.2" fill="#000"/>
<rect x="197" y="948.4" width="25" height="5.2" fill="#000"/>
<rect x="211" y="868.1" width="11" height="5.2" fill="#000"/>
<rect x="197" y="787.9" width="25" height="5.2" fill="#000"/>
<rect x="211" y="707.6" width="11" height="5.2" fill="#000"/>
<rect x="197" y="627.4" width="25" height="5.2" fill="#000"/>
<rect x="211" y="547.1" width="11" height="5.2" fill="#000"/>
<rect x="197" y="466.9" width="25" height="5.2" fill="#000"/>
<rect x="211" y="386.7" width="11" height="5.2" fill="#000"/>
<rect x="197" y="306.4" width="25" height="5.2" fill="#000"/>
<rect x="211" y="228.3" width="11" height="5.2" fill="#000"/>
<rect x="1816.2" y="1410.4" width="24.3" height="5.2" fill="#000"/>
<rect x="1816.2" y="1311.9" width="10.8" height="5.2" fill="#000"/>
<rect x="1816.2" y="1213.4" width="24.3" height="5.2" fill="#000"/>
<rect x="1816.2" y="1114.9" width="10.8" height="5.2" fill="#000"/>
<rect x="1816.2" y="1016.4" width="24.3" height="5.2" fill="#000"/>
<rect x="1816.2" y="917.9" width="10.8" height="5.2" fill="#000"/>
<rect x="1816.2" y="819.4" width="24.3" height="5.2" fill="#000"/>
<rect x="1816.2" y="720.9" width="10.8" height="5.2" fill="#000"/>
<rect x="1816.2" y="622.4" width="24.3" height="5.2" fill="#000"/>
<rect x="1816.2" y="523.9" width="10.8" height="5.2" fill="#000"/>
<rect x="1816.2" y="425.4" width="24.3" height="5.2" fill="#000"/>
<rect x="1816.2" y="326.9" width="10.8" height="5.2" fill="#000"/>
<rect x="1816.2" y="228.4" width="24.3" height="5.2" fill="#000"/>
<rect x="221.5" y="1514.5" width="5.5" height="21.8" fill="#000"/>
<rect x="354.1" y="1514.5" width="5.2" height="9" fill="#000"/>
<rect x="486.6" y="1514.5" width="5.2" height="21.8" fill="#000"/>
<rect x="619" y="1514.5" width="5.2" height="9" fill="#000"/>
<rect x="751.5" y="1514.5" width="5.2" height="21.8" fill="#000"/>
<rect x="883.9" y="1514.5" width="5.2" height="9" fill="#000"/>
<rect x="1016.4" y="1514.5" width="5.2" height="21.8" fill="#000"/>
<rect x="1148.8" y="1514.5" width="5.2" height="9" fill="#000"/>
<rect x="1281.3" y="1514.5" width="5.2" height="21.8" fill="#000"/>
<rect x="1413.8" y="1514.5" width="5.2" height="9" fill="#000"/>
<rect x="1546.2" y="1514.5" width="5.2" height="21.8" fill="#000"/>
<rect x="1678.6" y="1514.5" width="5.2" height="9" fill="#000"/>
</g>
<g font-family="'Liberation Sans', sans-serif" fill="#000">
<text transform="translate(181.5 1450.5) scale(1 1.065)" font-size="54" text-anchor="end">0.4</text>
<text transform="translate(181.5 1290) scale(1 1.065)" font-size="54" text-anchor="end">0.6</text>
<text transform="translate(181.5 1129.5) scale(1 1.065)" font-size="54" text-anchor="end">0.8</text>
<text transform="translate(181.5 969) scale(1 1.065)" font-size="54" text-anchor="end">1.0</text>
<text transform="translate(181.5 808.5) scale(1 1.065)" font-size="54" text-anchor="end">1.2</text>
<text transform="translate(181.5 648) scale(1 1.065)" font-size="54" text-anchor="end">1.4</text>
<text transform="translate(181.5 487.5) scale(1 1.065)" font-size="54" text-anchor="end">1.6</text>
<text transform="translate(181.5 327) scale(1 1.065)" font-size="54" text-anchor="end">1.8</text>
<text transform="translate(1857.5 1428.8) scale(1 1.065)" font-size="54">40</text>
<text transform="translate(1857.5 1231.8) scale(1 1.065)" font-size="54">50</text>
<text transform="translate(1857.5 1034.8) scale(1 1.065)" font-size="54">60</text>
<text transform="translate(1857.5 837.8) scale(1 1.065)" font-size="54">70</text>
<text transform="translate(1857.5 640.8) scale(1 1.065)" font-size="54">80</text>
<text transform="translate(1857.5 443.8) scale(1 1.065)" font-size="54">90</text>
<text transform="translate(1857.5 246.8) scale(1 1.065)" font-size="54">100</text>
<text x="223.8" y="1596" font-size="54" text-anchor="middle">0.0000</text>
<text x="488.7" y="1596" font-size="54" text-anchor="middle">0.0002</text>
<text x="753.6" y="1596" font-size="54" text-anchor="middle">0.0004</text>
<text x="1018.5" y="1596" font-size="54" text-anchor="middle">0.0006</text>
<text x="1283.4" y="1596" font-size="54" text-anchor="middle">0.0008</text>
<text x="1548.3" y="1596" font-size="54" text-anchor="middle">0.0010</text>
<text x="1813.2" y="1596" font-size="54" text-anchor="middle">0.0012</text>
<text x="1019.3" y="1699" font-size="67.5" text-anchor="middle">C (M)</text>
<text transform="translate(64.5 992.5) rotate(-90)" font-size="67">C<tspan font-size="46.5" dy="18.5">R</tspan><tspan dy="-18.5"> (mm/y)</tspan></text>
<text transform="translate(2021.5 953) rotate(-90)" font-size="66.5">IE(%)</text>
</g>
<g font-family="'Liberation Sans', sans-serif">
<rect x="1981" y="34.2" width="133.5" height="10.2" fill="#000000"/>
<rect x="2028.7" y="20.7" width="37.2" height="37.2" fill="#000000"/>
<text x="2128" y="57.7" font-size="55" fill="#000">1 h</text>
<rect x="1981" y="102.9" width="133.5" height="10.2" fill="#ff0000"/>
<circle cx="2047.3" cy="108" r="20.8" fill="#ff0000"/>
<text x="2128" y="127.2" font-size="55" fill="#000">5 h</text>
<rect x="1981" y="172.2" width="133.5" height="10.2" fill="#0000ff"/>
<polygon points="2047.3,149 2071.7,191.5 2022.9,191.5" fill="#0000ff"/>
<text x="2128" y="195.2" font-size="55" fill="#000">10 h</text>
<rect x="1981" y="240.6" width="133.5" height="10.2" fill="#00ff00"/>
<polygon points="2047.3,274 2071.7,231.5 2022.9,231.5" fill="#00ff00"/>
<text x="2128" y="265" font-size="55" fill="#000">24 h</text>
<rect x="1981" y="310.2" width="133.5" height="10.2" fill="#8000ff"/>
<polygon points="2047.3,289.1 2073.5,315.3 2047.3,341.5 2021.1,315.3" fill="#8000ff"/>
<text x="2128" y="334" font-size="55" fill="#000">48 h</text>
</g>
</svg>
</body>
</html>
